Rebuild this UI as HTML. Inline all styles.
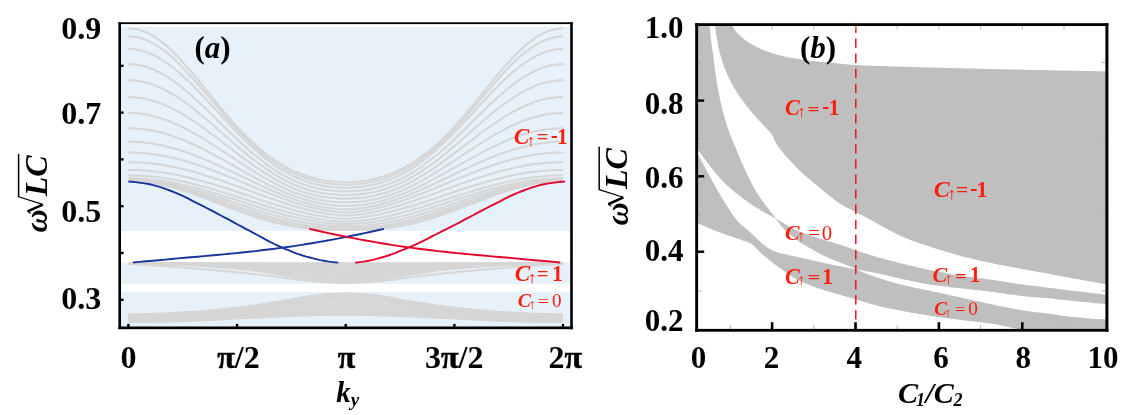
<!DOCTYPE html>
<html><head><meta charset="utf-8"><title>figure</title>
<style>html,body{margin:0;padding:0;background:#fff;}body{width:1139px;height:415px;overflow:hidden;font-family:"Liberation Serif",serif;}svg{display:block;will-change:transform;}</style>
</head><body>
<svg width="1139" height="415" viewBox="0 0 1139 415" font-family="Liberation Serif, serif">
<rect x="121.0" y="26.8" width="449.4" height="204.2" fill="#e7f1fa"/>
<rect x="121.0" y="262.3" width="449.4" height="21.5" fill="#e7f1fa"/>
<rect x="121.0" y="292.0" width="449.4" height="34.60000000000002" fill="#e7f1fa"/>
<g fill="none" stroke="#d6d6d6" stroke-width="2.05" stroke-linecap="butt">
<path d="M128.4,28.4 L131.5,28.5 L134.7,28.9 L137.8,29.5 L141.0,30.4 L144.1,31.5 L147.3,32.9 L150.4,34.5 L153.6,36.3 L156.7,38.3 L159.9,40.6 L163.0,43.0 L166.2,45.6 L169.3,48.4 L172.5,51.4 L175.6,54.5 L178.8,57.8 L181.9,61.2 L185.1,64.7 L188.2,68.3 L191.4,71.9 L194.5,75.7 L197.7,79.5 L200.8,83.3 L204.0,87.2 L207.1,91.1 L210.3,95.0 L213.4,98.9 L216.6,102.8 L219.7,106.6 L222.9,110.4 L226.0,114.1 L229.2,117.8 L232.3,121.4 L235.5,124.9 L238.6,128.4 L241.8,131.7 L244.9,135.0 L248.1,138.1 L251.2,141.2 L254.4,144.1 L257.5,146.9 L260.7,149.6 L263.8,152.2 L267.0,154.6 L270.1,157.0 L273.3,159.2 L276.4,161.3 L279.6,163.3 L282.7,165.2 L285.9,166.9 L289.0,168.6 L292.2,170.1 L295.3,171.6 L298.5,172.9 L301.6,174.2 L304.8,175.3 L307.9,176.3 L311.1,177.3 L314.2,178.2 L317.4,178.9 L320.5,179.6 L323.7,180.2 L326.8,180.8 L330.0,181.2 L333.1,181.6 L336.3,181.8 L339.4,182.0 L342.6,182.2 L345.7,182.2 L348.8,182.2 L352.0,182.0 L355.1,181.8 L358.3,181.6 L361.4,181.2 L364.6,180.8 L367.7,180.2 L370.9,179.6 L374.0,178.9 L377.2,178.2 L380.3,177.3 L383.5,176.3 L386.6,175.3 L389.8,174.2 L392.9,172.9 L396.1,171.6 L399.2,170.1 L402.4,168.6 L405.5,166.9 L408.7,165.2 L411.8,163.3 L415.0,161.3 L418.1,159.2 L421.3,157.0 L424.4,154.6 L427.6,152.2 L430.7,149.6 L433.9,146.9 L437.0,144.1 L440.2,141.2 L443.3,138.1 L446.5,135.0 L449.6,131.7 L452.8,128.4 L455.9,124.9 L459.1,121.4 L462.2,117.8 L465.4,114.1 L468.5,110.4 L471.7,106.6 L474.8,102.8 L478.0,98.9 L481.1,95.0 L484.3,91.1 L487.4,87.2 L490.6,83.3 L493.7,79.5 L496.9,75.7 L500.0,71.9 L503.2,68.3 L506.3,64.7 L509.5,61.2 L512.6,57.8 L515.8,54.5 L518.9,51.4 L522.1,48.4 L525.2,45.6 L528.4,43.0 L531.5,40.6 L534.7,38.3 L537.8,36.3 L541.0,34.5 L544.1,32.9 L547.3,31.5 L550.4,30.4 L553.6,29.5 L556.7,28.9 L559.9,28.5 L563.0,28.4"/>
<path d="M128.4,36.4 L131.5,36.5 L134.7,36.9 L137.8,37.4 L141.0,38.2 L144.1,39.3 L147.3,40.5 L150.4,42.0 L153.6,43.6 L156.7,45.5 L159.9,47.6 L163.0,49.8 L166.2,52.2 L169.3,54.8 L172.5,57.6 L175.6,60.5 L178.8,63.5 L181.9,66.7 L185.1,69.9 L188.2,73.3 L191.4,76.7 L194.5,80.3 L197.7,83.8 L200.8,87.5 L204.0,91.2 L207.1,94.9 L210.3,98.6 L213.4,102.3 L216.6,106.0 L219.7,109.7 L222.9,113.3 L226.0,117.0 L229.2,120.5 L232.3,124.0 L235.5,127.5 L238.6,130.8 L241.8,134.1 L244.9,137.3 L248.1,140.4 L251.2,143.5 L254.4,146.4 L257.5,149.2 L260.7,151.9 L263.8,154.4 L267.0,156.9 L270.1,159.3 L273.3,161.5 L276.4,163.6 L279.6,165.7 L282.7,167.6 L285.9,169.3 L289.0,171.0 L292.2,172.6 L295.3,174.0 L298.5,175.4 L301.6,176.6 L304.8,177.8 L307.9,178.8 L311.1,179.8 L314.2,180.6 L317.4,181.4 L320.5,182.1 L323.7,182.7 L326.8,183.2 L330.0,183.6 L333.1,184.0 L336.3,184.3 L339.4,184.4 L342.6,184.6 L345.7,184.6 L348.8,184.6 L352.0,184.4 L355.1,184.3 L358.3,184.0 L361.4,183.6 L364.6,183.2 L367.7,182.7 L370.9,182.1 L374.0,181.4 L377.2,180.6 L380.3,179.8 L383.5,178.8 L386.6,177.8 L389.8,176.6 L392.9,175.4 L396.1,174.0 L399.2,172.6 L402.4,171.0 L405.5,169.3 L408.7,167.6 L411.8,165.7 L415.0,163.6 L418.1,161.5 L421.3,159.3 L424.4,156.9 L427.6,154.4 L430.7,151.9 L433.9,149.2 L437.0,146.4 L440.2,143.5 L443.3,140.4 L446.5,137.3 L449.6,134.1 L452.8,130.8 L455.9,127.5 L459.1,124.0 L462.2,120.5 L465.4,117.0 L468.5,113.3 L471.7,109.7 L474.8,106.0 L478.0,102.3 L481.1,98.6 L484.3,94.9 L487.4,91.2 L490.6,87.5 L493.7,83.8 L496.9,80.3 L500.0,76.7 L503.2,73.3 L506.3,69.9 L509.5,66.7 L512.6,63.5 L515.8,60.5 L518.9,57.6 L522.1,54.8 L525.2,52.2 L528.4,49.8 L531.5,47.6 L534.7,45.5 L537.8,43.6 L541.0,42.0 L544.1,40.5 L547.3,39.3 L550.4,38.2 L553.6,37.4 L556.7,36.9 L559.9,36.5 L563.0,36.4"/>
<path d="M128.4,48.9 L131.5,49.0 L134.7,49.3 L137.8,49.8 L141.0,50.5 L144.1,51.4 L147.3,52.4 L150.4,53.7 L153.6,55.1 L156.7,56.7 L159.9,58.5 L163.0,60.5 L166.2,62.6 L169.3,64.8 L172.5,67.2 L175.6,69.8 L178.8,72.4 L181.9,75.2 L185.1,78.1 L188.2,81.1 L191.4,84.1 L194.5,87.3 L197.7,90.5 L200.8,93.8 L204.0,97.1 L207.1,100.5 L210.3,103.9 L213.4,107.3 L216.6,110.7 L219.7,114.1 L222.9,117.5 L226.0,120.9 L229.2,124.2 L232.3,127.6 L235.5,130.8 L238.6,134.1 L241.8,137.2 L244.9,140.3 L248.1,143.3 L251.2,146.3 L254.4,149.1 L257.5,151.9 L260.7,154.6 L263.8,157.2 L267.0,159.6 L270.1,162.0 L273.3,164.3 L276.4,166.4 L279.6,168.5 L282.7,170.4 L285.9,172.2 L289.0,173.9 L292.2,175.6 L295.3,177.0 L298.5,178.4 L301.6,179.7 L304.8,180.9 L307.9,182.0 L311.1,182.9 L314.2,183.8 L317.4,184.6 L320.5,185.3 L323.7,185.8 L326.8,186.4 L330.0,186.8 L333.1,187.1 L336.3,187.4 L339.4,187.6 L342.6,187.7 L345.7,187.7 L348.8,187.7 L352.0,187.6 L355.1,187.4 L358.3,187.1 L361.4,186.8 L364.6,186.4 L367.7,185.8 L370.9,185.3 L374.0,184.6 L377.2,183.8 L380.3,182.9 L383.5,182.0 L386.6,180.9 L389.8,179.7 L392.9,178.4 L396.1,177.0 L399.2,175.6 L402.4,173.9 L405.5,172.2 L408.7,170.4 L411.8,168.5 L415.0,166.4 L418.1,164.3 L421.3,162.0 L424.4,159.6 L427.6,157.2 L430.7,154.6 L433.9,151.9 L437.0,149.1 L440.2,146.3 L443.3,143.3 L446.5,140.3 L449.6,137.2 L452.8,134.1 L455.9,130.8 L459.1,127.6 L462.2,124.2 L465.4,120.9 L468.5,117.5 L471.7,114.1 L474.8,110.7 L478.0,107.3 L481.1,103.9 L484.3,100.5 L487.4,97.1 L490.6,93.8 L493.7,90.5 L496.9,87.3 L500.0,84.1 L503.2,81.1 L506.3,78.1 L509.5,75.2 L512.6,72.4 L515.8,69.8 L518.9,67.2 L522.1,64.8 L525.2,62.6 L528.4,60.5 L531.5,58.5 L534.7,56.7 L537.8,55.1 L541.0,53.7 L544.1,52.4 L547.3,51.4 L550.4,50.5 L553.6,49.8 L556.7,49.3 L559.9,49.0 L563.0,48.9"/>
<path d="M128.4,64.1 L131.5,64.2 L134.7,64.4 L137.8,64.9 L141.0,65.5 L144.1,66.3 L147.3,67.2 L150.4,68.3 L153.6,69.6 L156.7,71.0 L159.9,72.6 L163.0,74.3 L166.2,76.2 L169.3,78.2 L172.5,80.3 L175.6,82.6 L178.8,85.0 L181.9,87.4 L185.1,90.0 L188.2,92.7 L191.4,95.4 L194.5,98.2 L197.7,101.1 L200.8,104.1 L204.0,107.1 L207.1,110.1 L210.3,113.2 L213.4,116.3 L216.6,119.4 L219.7,122.5 L222.9,125.6 L226.0,128.7 L229.2,131.7 L232.3,134.8 L235.5,137.8 L238.6,140.8 L241.8,143.7 L244.9,146.5 L248.1,149.3 L251.2,152.1 L254.4,154.7 L257.5,157.3 L260.7,159.8 L263.8,162.3 L267.0,164.6 L270.1,166.8 L273.3,169.0 L276.4,171.0 L279.6,173.0 L282.7,174.8 L285.9,176.5 L289.0,178.2 L292.2,179.7 L295.3,181.1 L298.5,182.5 L301.6,183.7 L304.8,184.8 L307.9,185.8 L311.1,186.8 L314.2,187.6 L317.4,188.3 L320.5,189.0 L323.7,189.6 L326.8,190.0 L330.0,190.4 L333.1,190.8 L336.3,191.0 L339.4,191.2 L342.6,191.3 L345.7,191.3 L348.8,191.3 L352.0,191.2 L355.1,191.0 L358.3,190.8 L361.4,190.4 L364.6,190.0 L367.7,189.6 L370.9,189.0 L374.0,188.3 L377.2,187.6 L380.3,186.8 L383.5,185.8 L386.6,184.8 L389.8,183.7 L392.9,182.5 L396.1,181.1 L399.2,179.7 L402.4,178.2 L405.5,176.5 L408.7,174.8 L411.8,173.0 L415.0,171.0 L418.1,169.0 L421.3,166.8 L424.4,164.6 L427.6,162.3 L430.7,159.8 L433.9,157.3 L437.0,154.7 L440.2,152.1 L443.3,149.3 L446.5,146.5 L449.6,143.7 L452.8,140.8 L455.9,137.8 L459.1,134.8 L462.2,131.7 L465.4,128.7 L468.5,125.6 L471.7,122.5 L474.8,119.4 L478.0,116.3 L481.1,113.2 L484.3,110.1 L487.4,107.1 L490.6,104.1 L493.7,101.1 L496.9,98.2 L500.0,95.4 L503.2,92.7 L506.3,90.0 L509.5,87.4 L512.6,85.0 L515.8,82.6 L518.9,80.3 L522.1,78.2 L525.2,76.2 L528.4,74.3 L531.5,72.6 L534.7,71.0 L537.8,69.6 L541.0,68.3 L544.1,67.2 L547.3,66.3 L550.4,65.5 L553.6,64.9 L556.7,64.4 L559.9,64.2 L563.0,64.1"/>
<path d="M128.4,80.2 L131.5,80.3 L134.7,80.5 L137.8,80.9 L141.0,81.4 L144.1,82.1 L147.3,82.9 L150.4,83.8 L153.6,84.9 L156.7,86.1 L159.9,87.5 L163.0,88.9 L166.2,90.5 L169.3,92.3 L172.5,94.1 L175.6,96.0 L178.8,98.1 L181.9,100.2 L185.1,102.4 L188.2,104.8 L191.4,107.1 L194.5,109.6 L197.7,112.1 L200.8,114.7 L204.0,117.3 L207.1,120.0 L210.3,122.7 L213.4,125.4 L216.6,128.2 L219.7,130.9 L222.9,133.7 L226.0,136.5 L229.2,139.2 L232.3,142.0 L235.5,144.7 L238.6,147.4 L241.8,150.0 L244.9,152.6 L248.1,155.2 L251.2,157.7 L254.4,160.2 L257.5,162.6 L260.7,164.9 L263.8,167.2 L267.0,169.3 L270.1,171.4 L273.3,173.5 L276.4,175.4 L279.6,177.2 L282.7,179.0 L285.9,180.6 L289.0,182.2 L292.2,183.7 L295.3,185.1 L298.5,186.3 L301.6,187.5 L304.8,188.6 L307.9,189.6 L311.1,190.5 L314.2,191.3 L317.4,192.1 L320.5,192.7 L323.7,193.2 L326.8,193.7 L330.0,194.1 L333.1,194.4 L336.3,194.6 L339.4,194.8 L342.6,194.9 L345.7,194.9 L348.8,194.9 L352.0,194.8 L355.1,194.6 L358.3,194.4 L361.4,194.1 L364.6,193.7 L367.7,193.2 L370.9,192.7 L374.0,192.1 L377.2,191.3 L380.3,190.5 L383.5,189.6 L386.6,188.6 L389.8,187.5 L392.9,186.3 L396.1,185.1 L399.2,183.7 L402.4,182.2 L405.5,180.6 L408.7,179.0 L411.8,177.2 L415.0,175.4 L418.1,173.5 L421.3,171.4 L424.4,169.3 L427.6,167.2 L430.7,164.9 L433.9,162.6 L437.0,160.2 L440.2,157.7 L443.3,155.2 L446.5,152.6 L449.6,150.0 L452.8,147.4 L455.9,144.7 L459.1,142.0 L462.2,139.2 L465.4,136.5 L468.5,133.7 L471.7,130.9 L474.8,128.2 L478.0,125.4 L481.1,122.7 L484.3,120.0 L487.4,117.3 L490.6,114.7 L493.7,112.1 L496.9,109.6 L500.0,107.1 L503.2,104.8 L506.3,102.4 L509.5,100.2 L512.6,98.1 L515.8,96.0 L518.9,94.1 L522.1,92.3 L525.2,90.5 L528.4,88.9 L531.5,87.5 L534.7,86.1 L537.8,84.9 L541.0,83.8 L544.1,82.9 L547.3,82.1 L550.4,81.4 L553.6,80.9 L556.7,80.5 L559.9,80.3 L563.0,80.2"/>
<path d="M128.4,97.1 L131.5,97.2 L134.7,97.3 L137.8,97.7 L141.0,98.1 L144.1,98.6 L147.3,99.3 L150.4,100.1 L153.6,101.0 L156.7,102.0 L159.9,103.1 L163.0,104.4 L166.2,105.7 L169.3,107.2 L172.5,108.7 L175.6,110.3 L178.8,112.0 L181.9,113.8 L185.1,115.7 L188.2,117.7 L191.4,119.7 L194.5,121.8 L197.7,123.9 L200.8,126.1 L204.0,128.4 L207.1,130.7 L210.3,133.0 L213.4,135.3 L216.6,137.7 L219.7,140.1 L222.9,142.5 L226.0,144.9 L229.2,147.3 L232.3,149.7 L235.5,152.1 L238.6,154.5 L241.8,156.9 L244.9,159.2 L248.1,161.5 L251.2,163.8 L254.4,166.0 L257.5,168.1 L260.7,170.3 L263.8,172.3 L267.0,174.3 L270.1,176.2 L273.3,178.1 L276.4,179.9 L279.6,181.6 L282.7,183.3 L285.9,184.8 L289.0,186.3 L292.2,187.7 L295.3,189.0 L298.5,190.3 L301.6,191.4 L304.8,192.5 L307.9,193.4 L311.1,194.3 L314.2,195.1 L317.4,195.8 L320.5,196.4 L323.7,197.0 L326.8,197.4 L330.0,197.8 L333.1,198.1 L336.3,198.3 L339.4,198.5 L342.6,198.6 L345.7,198.6 L348.8,198.6 L352.0,198.5 L355.1,198.3 L358.3,198.1 L361.4,197.8 L364.6,197.4 L367.7,197.0 L370.9,196.4 L374.0,195.8 L377.2,195.1 L380.3,194.3 L383.5,193.4 L386.6,192.5 L389.8,191.4 L392.9,190.3 L396.1,189.0 L399.2,187.7 L402.4,186.3 L405.5,184.8 L408.7,183.3 L411.8,181.6 L415.0,179.9 L418.1,178.1 L421.3,176.2 L424.4,174.3 L427.6,172.3 L430.7,170.3 L433.9,168.1 L437.0,166.0 L440.2,163.8 L443.3,161.5 L446.5,159.2 L449.6,156.9 L452.8,154.5 L455.9,152.1 L459.1,149.7 L462.2,147.3 L465.4,144.9 L468.5,142.5 L471.7,140.1 L474.8,137.7 L478.0,135.3 L481.1,133.0 L484.3,130.7 L487.4,128.4 L490.6,126.1 L493.7,123.9 L496.9,121.8 L500.0,119.7 L503.2,117.7 L506.3,115.7 L509.5,113.8 L512.6,112.0 L515.8,110.3 L518.9,108.7 L522.1,107.2 L525.2,105.7 L528.4,104.4 L531.5,103.1 L534.7,102.0 L537.8,101.0 L541.0,100.1 L544.1,99.3 L547.3,98.6 L550.4,98.1 L553.6,97.7 L556.7,97.3 L559.9,97.2 L563.0,97.1"/>
<path d="M128.4,113.0 L131.5,113.1 L134.7,113.2 L137.8,113.5 L141.0,113.8 L144.1,114.3 L147.3,114.8 L150.4,115.5 L153.6,116.2 L156.7,117.1 L159.9,118.0 L163.0,119.0 L166.2,120.1 L169.3,121.3 L172.5,122.6 L175.6,124.0 L178.8,125.4 L181.9,126.9 L185.1,128.5 L188.2,130.1 L191.4,131.8 L194.5,133.5 L197.7,135.4 L200.8,137.2 L204.0,139.1 L207.1,141.0 L210.3,143.0 L213.4,145.0 L216.6,147.1 L219.7,149.1 L222.9,151.2 L226.0,153.2 L229.2,155.3 L232.3,157.4 L235.5,159.5 L238.6,161.6 L241.8,163.6 L244.9,165.7 L248.1,167.7 L251.2,169.7 L254.4,171.7 L257.5,173.6 L260.7,175.5 L263.8,177.4 L267.0,179.2 L270.1,180.9 L273.3,182.6 L276.4,184.3 L279.6,185.9 L282.7,187.4 L285.9,188.9 L289.0,190.3 L292.2,191.6 L295.3,192.8 L298.5,194.0 L301.6,195.1 L304.8,196.1 L307.9,197.1 L311.1,197.9 L314.2,198.7 L317.4,199.4 L320.5,200.0 L323.7,200.5 L326.8,201.0 L330.0,201.4 L333.1,201.7 L336.3,201.9 L339.4,202.1 L342.6,202.2 L345.7,202.2 L348.8,202.2 L352.0,202.1 L355.1,201.9 L358.3,201.7 L361.4,201.4 L364.6,201.0 L367.7,200.5 L370.9,200.0 L374.0,199.4 L377.2,198.7 L380.3,197.9 L383.5,197.1 L386.6,196.1 L389.8,195.1 L392.9,194.0 L396.1,192.8 L399.2,191.6 L402.4,190.3 L405.5,188.9 L408.7,187.4 L411.8,185.9 L415.0,184.3 L418.1,182.6 L421.3,180.9 L424.4,179.2 L427.6,177.4 L430.7,175.5 L433.9,173.6 L437.0,171.7 L440.2,169.7 L443.3,167.7 L446.5,165.7 L449.6,163.6 L452.8,161.6 L455.9,159.5 L459.1,157.4 L462.2,155.3 L465.4,153.2 L468.5,151.2 L471.7,149.1 L474.8,147.1 L478.0,145.0 L481.1,143.0 L484.3,141.0 L487.4,139.1 L490.6,137.2 L493.7,135.4 L496.9,133.5 L500.0,131.8 L503.2,130.1 L506.3,128.5 L509.5,126.9 L512.6,125.4 L515.8,124.0 L518.9,122.6 L522.1,121.3 L525.2,120.1 L528.4,119.0 L531.5,118.0 L534.7,117.1 L537.8,116.2 L541.0,115.5 L544.1,114.8 L547.3,114.3 L550.4,113.8 L553.6,113.5 L556.7,113.2 L559.9,113.1 L563.0,113.0"/>
<path d="M128.4,128.2 L131.5,128.2 L134.7,128.4 L137.8,128.6 L141.0,128.9 L144.1,129.2 L147.3,129.7 L150.4,130.2 L153.6,130.8 L156.7,131.5 L159.9,132.3 L163.0,133.1 L166.2,134.0 L169.3,135.0 L172.5,136.0 L175.6,137.1 L178.8,138.3 L181.9,139.5 L185.1,140.8 L188.2,142.2 L191.4,143.6 L194.5,145.0 L197.7,146.5 L200.8,148.0 L204.0,149.6 L207.1,151.2 L210.3,152.9 L213.4,154.6 L216.6,156.3 L219.7,158.0 L222.9,159.7 L226.0,161.5 L229.2,163.3 L232.3,165.0 L235.5,166.8 L238.6,168.6 L241.8,170.4 L244.9,172.1 L248.1,173.9 L251.2,175.6 L254.4,177.4 L257.5,179.1 L260.7,180.7 L263.8,182.4 L267.0,184.0 L270.1,185.6 L273.3,187.1 L276.4,188.6 L279.6,190.0 L282.7,191.4 L285.9,192.8 L289.0,194.1 L292.2,195.3 L295.3,196.5 L298.5,197.6 L301.6,198.6 L304.8,199.6 L307.9,200.5 L311.1,201.4 L314.2,202.1 L317.4,202.8 L320.5,203.5 L323.7,204.0 L326.8,204.5 L330.0,204.9 L333.1,205.2 L336.3,205.5 L339.4,205.7 L342.6,205.8 L345.7,205.8 L348.8,205.8 L352.0,205.7 L355.1,205.5 L358.3,205.2 L361.4,204.9 L364.6,204.5 L367.7,204.0 L370.9,203.5 L374.0,202.8 L377.2,202.1 L380.3,201.4 L383.5,200.5 L386.6,199.6 L389.8,198.6 L392.9,197.6 L396.1,196.5 L399.2,195.3 L402.4,194.1 L405.5,192.8 L408.7,191.4 L411.8,190.0 L415.0,188.6 L418.1,187.1 L421.3,185.6 L424.4,184.0 L427.6,182.4 L430.7,180.7 L433.9,179.1 L437.0,177.4 L440.2,175.6 L443.3,173.9 L446.5,172.1 L449.6,170.4 L452.8,168.6 L455.9,166.8 L459.1,165.0 L462.2,163.3 L465.4,161.5 L468.5,159.7 L471.7,158.0 L474.8,156.3 L478.0,154.6 L481.1,152.9 L484.3,151.2 L487.4,149.6 L490.6,148.0 L493.7,146.5 L496.9,145.0 L500.0,143.6 L503.2,142.2 L506.3,140.8 L509.5,139.5 L512.6,138.3 L515.8,137.1 L518.9,136.0 L522.1,135.0 L525.2,134.0 L528.4,133.1 L531.5,132.3 L534.7,131.5 L537.8,130.8 L541.0,130.2 L544.1,129.7 L547.3,129.2 L550.4,128.9 L553.6,128.6 L556.7,128.4 L559.9,128.2 L563.0,128.2"/>
<path d="M128.4,141.7 L131.5,141.7 L134.7,141.8 L137.8,142.0 L141.0,142.2 L144.1,142.5 L147.3,142.9 L150.4,143.3 L153.6,143.8 L156.7,144.3 L159.9,145.0 L163.0,145.6 L166.2,146.4 L169.3,147.2 L172.5,148.0 L175.6,148.9 L178.8,149.8 L181.9,150.8 L185.1,151.9 L188.2,153.0 L191.4,154.1 L194.5,155.3 L197.7,156.5 L200.8,157.8 L204.0,159.1 L207.1,160.4 L210.3,161.8 L213.4,163.2 L216.6,164.6 L219.7,166.0 L222.9,167.5 L226.0,169.0 L229.2,170.4 L232.3,171.9 L235.5,173.4 L238.6,175.0 L241.8,176.5 L244.9,178.0 L248.1,179.5 L251.2,181.0 L254.4,182.5 L257.5,184.0 L260.7,185.4 L263.8,186.9 L267.0,188.3 L270.1,189.7 L273.3,191.1 L276.4,192.4 L279.6,193.7 L282.7,195.0 L285.9,196.2 L289.0,197.4 L292.2,198.6 L295.3,199.7 L298.5,200.8 L301.6,201.8 L304.8,202.7 L307.9,203.6 L311.1,204.5 L314.2,205.3 L317.4,206.0 L320.5,206.7 L323.7,207.3 L326.8,207.8 L330.0,208.3 L333.1,208.6 L336.3,209.0 L339.4,209.2 L342.6,209.3 L345.7,209.4 L348.8,209.3 L352.0,209.2 L355.1,209.0 L358.3,208.6 L361.4,208.3 L364.6,207.8 L367.7,207.3 L370.9,206.7 L374.0,206.0 L377.2,205.3 L380.3,204.5 L383.5,203.6 L386.6,202.7 L389.8,201.8 L392.9,200.8 L396.1,199.7 L399.2,198.6 L402.4,197.4 L405.5,196.2 L408.7,195.0 L411.8,193.7 L415.0,192.4 L418.1,191.1 L421.3,189.7 L424.4,188.3 L427.6,186.9 L430.7,185.4 L433.9,184.0 L437.0,182.5 L440.2,181.0 L443.3,179.5 L446.5,178.0 L449.6,176.5 L452.8,175.0 L455.9,173.4 L459.1,171.9 L462.2,170.4 L465.4,169.0 L468.5,167.5 L471.7,166.0 L474.8,164.6 L478.0,163.2 L481.1,161.8 L484.3,160.4 L487.4,159.1 L490.6,157.8 L493.7,156.5 L496.9,155.3 L500.0,154.1 L503.2,153.0 L506.3,151.9 L509.5,150.8 L512.6,149.8 L515.8,148.9 L518.9,148.0 L522.1,147.2 L525.2,146.4 L528.4,145.6 L531.5,145.0 L534.7,144.3 L537.8,143.8 L541.0,143.3 L544.1,142.9 L547.3,142.5 L550.4,142.2 L553.6,142.0 L556.7,141.8 L559.9,141.7 L563.0,141.7"/>
<path d="M128.4,152.5 L131.5,152.5 L134.7,152.6 L137.8,152.7 L141.0,152.9 L144.1,153.2 L147.3,153.5 L150.4,153.9 L153.6,154.3 L156.7,154.7 L159.9,155.2 L163.0,155.8 L166.2,156.4 L169.3,157.1 L172.5,157.8 L175.6,158.5 L178.8,159.3 L181.9,160.2 L185.1,161.1 L188.2,162.0 L191.4,163.0 L194.5,164.0 L197.7,165.0 L200.8,166.1 L204.0,167.2 L207.1,168.3 L210.3,169.5 L213.4,170.6 L216.6,171.8 L219.7,173.1 L222.9,174.3 L226.0,175.6 L229.2,176.9 L232.3,178.1 L235.5,179.4 L238.6,180.8 L241.8,182.1 L244.9,183.4 L248.1,184.7 L251.2,186.0 L254.4,187.3 L257.5,188.6 L260.7,189.9 L263.8,191.2 L267.0,192.4 L270.1,193.7 L273.3,194.9 L276.4,196.1 L279.6,197.3 L282.7,198.5 L285.9,199.6 L289.0,200.7 L292.2,201.7 L295.3,202.8 L298.5,203.8 L301.6,204.7 L304.8,205.6 L307.9,206.5 L311.1,207.3 L314.2,208.1 L317.4,208.8 L320.5,209.5 L323.7,210.1 L326.8,210.6 L330.0,211.1 L333.1,211.6 L336.3,211.9 L339.4,212.2 L342.6,212.4 L345.7,212.5 L348.8,212.4 L352.0,212.2 L355.1,211.9 L358.3,211.6 L361.4,211.1 L364.6,210.6 L367.7,210.1 L370.9,209.5 L374.0,208.8 L377.2,208.1 L380.3,207.3 L383.5,206.5 L386.6,205.6 L389.8,204.7 L392.9,203.8 L396.1,202.8 L399.2,201.7 L402.4,200.7 L405.5,199.6 L408.7,198.5 L411.8,197.3 L415.0,196.1 L418.1,194.9 L421.3,193.7 L424.4,192.4 L427.6,191.2 L430.7,189.9 L433.9,188.6 L437.0,187.3 L440.2,186.0 L443.3,184.7 L446.5,183.4 L449.6,182.1 L452.8,180.8 L455.9,179.4 L459.1,178.1 L462.2,176.9 L465.4,175.6 L468.5,174.3 L471.7,173.1 L474.8,171.8 L478.0,170.6 L481.1,169.5 L484.3,168.3 L487.4,167.2 L490.6,166.1 L493.7,165.0 L496.9,164.0 L500.0,163.0 L503.2,162.0 L506.3,161.1 L509.5,160.2 L512.6,159.3 L515.8,158.5 L518.9,157.8 L522.1,157.1 L525.2,156.4 L528.4,155.8 L531.5,155.2 L534.7,154.7 L537.8,154.3 L541.0,153.9 L544.1,153.5 L547.3,153.2 L550.4,152.9 L553.6,152.7 L556.7,152.6 L559.9,152.5 L563.0,152.5"/>
<path d="M128.4,162.2 L131.5,162.2 L134.7,162.3 L137.8,162.4 L141.0,162.6 L144.1,162.8 L147.3,163.1 L150.4,163.4 L153.6,163.7 L156.7,164.1 L159.9,164.6 L163.0,165.1 L166.2,165.6 L169.3,166.2 L172.5,166.8 L175.6,167.4 L178.8,168.1 L181.9,168.9 L185.1,169.6 L188.2,170.4 L191.4,171.3 L194.5,172.1 L197.7,173.0 L200.8,174.0 L204.0,174.9 L207.1,175.9 L210.3,176.9 L213.4,178.0 L216.6,179.0 L219.7,180.1 L222.9,181.2 L226.0,182.3 L229.2,183.4 L232.3,184.5 L235.5,185.7 L238.6,186.8 L241.8,188.0 L244.9,189.1 L248.1,190.3 L251.2,191.4 L254.4,192.6 L257.5,193.7 L260.7,194.9 L263.8,196.0 L267.0,197.1 L270.1,198.2 L273.3,199.3 L276.4,200.4 L279.6,201.5 L282.7,202.5 L285.9,203.5 L289.0,204.5 L292.2,205.5 L295.3,206.4 L298.5,207.3 L301.6,208.2 L304.8,209.0 L307.9,209.8 L311.1,210.6 L314.2,211.3 L317.4,212.0 L320.5,212.6 L323.7,213.2 L326.8,213.7 L330.0,214.2 L333.1,214.6 L336.3,215.0 L339.4,215.3 L342.6,215.5 L345.7,215.6 L348.8,215.5 L352.0,215.3 L355.1,215.0 L358.3,214.6 L361.4,214.2 L364.6,213.7 L367.7,213.2 L370.9,212.6 L374.0,212.0 L377.2,211.3 L380.3,210.6 L383.5,209.8 L386.6,209.0 L389.8,208.2 L392.9,207.3 L396.1,206.4 L399.2,205.5 L402.4,204.5 L405.5,203.5 L408.7,202.5 L411.8,201.5 L415.0,200.4 L418.1,199.3 L421.3,198.2 L424.4,197.1 L427.6,196.0 L430.7,194.9 L433.9,193.7 L437.0,192.6 L440.2,191.4 L443.3,190.3 L446.5,189.1 L449.6,188.0 L452.8,186.8 L455.9,185.7 L459.1,184.5 L462.2,183.4 L465.4,182.3 L468.5,181.2 L471.7,180.1 L474.8,179.0 L478.0,178.0 L481.1,176.9 L484.3,175.9 L487.4,174.9 L490.6,174.0 L493.7,173.0 L496.9,172.1 L500.0,171.3 L503.2,170.4 L506.3,169.6 L509.5,168.9 L512.6,168.1 L515.8,167.4 L518.9,166.8 L522.1,166.2 L525.2,165.6 L528.4,165.1 L531.5,164.6 L534.7,164.1 L537.8,163.7 L541.0,163.4 L544.1,163.1 L547.3,162.8 L550.4,162.6 L553.6,162.4 L556.7,162.3 L559.9,162.2 L563.0,162.2"/>
<path d="M128.4,169.9 L131.5,169.9 L134.7,170.0 L137.8,170.1 L141.0,170.3 L144.1,170.4 L147.3,170.7 L150.4,171.0 L153.6,171.3 L156.7,171.7 L159.9,172.1 L163.0,172.5 L166.2,173.0 L169.3,173.5 L172.5,174.1 L175.6,174.7 L178.8,175.3 L181.9,176.0 L185.1,176.7 L188.2,177.4 L191.4,178.2 L194.5,179.0 L197.7,179.8 L200.8,180.7 L204.0,181.5 L207.1,182.5 L210.3,183.4 L213.4,184.3 L216.6,185.3 L219.7,186.3 L222.9,187.3 L226.0,188.3 L229.2,189.3 L232.3,190.3 L235.5,191.4 L238.6,192.4 L241.8,193.5 L244.9,194.5 L248.1,195.6 L251.2,196.7 L254.4,197.7 L257.5,198.8 L260.7,199.8 L263.8,200.9 L267.0,201.9 L270.1,202.9 L273.3,203.9 L276.4,204.9 L279.6,205.9 L282.7,206.8 L285.9,207.8 L289.0,208.7 L292.2,209.6 L295.3,210.4 L298.5,211.3 L301.6,212.1 L304.8,212.8 L307.9,213.6 L311.1,214.2 L314.2,214.9 L317.4,215.5 L320.5,216.1 L323.7,216.6 L326.8,217.1 L330.0,217.6 L333.1,217.9 L336.3,218.3 L339.4,218.5 L342.6,218.7 L345.7,218.8 L348.8,218.7 L352.0,218.5 L355.1,218.3 L358.3,217.9 L361.4,217.6 L364.6,217.1 L367.7,216.6 L370.9,216.1 L374.0,215.5 L377.2,214.9 L380.3,214.2 L383.5,213.6 L386.6,212.8 L389.8,212.1 L392.9,211.3 L396.1,210.4 L399.2,209.6 L402.4,208.7 L405.5,207.8 L408.7,206.8 L411.8,205.9 L415.0,204.9 L418.1,203.9 L421.3,202.9 L424.4,201.9 L427.6,200.9 L430.7,199.8 L433.9,198.8 L437.0,197.7 L440.2,196.7 L443.3,195.6 L446.5,194.5 L449.6,193.5 L452.8,192.4 L455.9,191.4 L459.1,190.3 L462.2,189.3 L465.4,188.3 L468.5,187.3 L471.7,186.3 L474.8,185.3 L478.0,184.3 L481.1,183.4 L484.3,182.5 L487.4,181.5 L490.6,180.7 L493.7,179.8 L496.9,179.0 L500.0,178.2 L503.2,177.4 L506.3,176.7 L509.5,176.0 L512.6,175.3 L515.8,174.7 L518.9,174.1 L522.1,173.5 L525.2,173.0 L528.4,172.5 L531.5,172.1 L534.7,171.7 L537.8,171.3 L541.0,171.0 L544.1,170.7 L547.3,170.4 L550.4,170.3 L553.6,170.1 L556.7,170.0 L559.9,169.9 L563.0,169.9"/>
<path d="M128.4,175.4 L131.5,175.4 L134.7,175.5 L137.8,175.6 L141.0,175.7 L144.1,175.9 L147.3,176.2 L150.4,176.4 L153.6,176.8 L156.7,177.1 L159.9,177.5 L163.0,177.9 L166.2,178.4 L169.3,178.9 L172.5,179.5 L175.6,180.1 L178.8,180.7 L181.9,181.3 L185.1,182.0 L188.2,182.7 L191.4,183.5 L194.5,184.2 L197.7,185.0 L200.8,185.9 L204.0,186.7 L207.1,187.6 L210.3,188.5 L213.4,189.4 L216.6,190.3 L219.7,191.3 L222.9,192.2 L226.0,193.2 L229.2,194.2 L232.3,195.2 L235.5,196.2 L238.6,197.2 L241.8,198.2 L244.9,199.2 L248.1,200.2 L251.2,201.3 L254.4,202.3 L257.5,203.3 L260.7,204.3 L263.8,205.3 L267.0,206.2 L270.1,207.2 L273.3,208.2 L276.4,209.1 L279.6,210.0 L282.7,210.9 L285.9,211.8 L289.0,212.6 L292.2,213.5 L295.3,214.2 L298.5,215.0 L301.6,215.8 L304.8,216.5 L307.9,217.1 L311.1,217.8 L314.2,218.4 L317.4,218.9 L320.5,219.4 L323.7,219.9 L326.8,220.3 L330.0,220.7 L333.1,221.0 L336.3,221.3 L339.4,221.5 L342.6,221.6 L345.7,221.7 L348.8,221.6 L352.0,221.5 L355.1,221.3 L358.3,221.0 L361.4,220.7 L364.6,220.3 L367.7,219.9 L370.9,219.4 L374.0,218.9 L377.2,218.4 L380.3,217.8 L383.5,217.1 L386.6,216.5 L389.8,215.8 L392.9,215.0 L396.1,214.2 L399.2,213.5 L402.4,212.6 L405.5,211.8 L408.7,210.9 L411.8,210.0 L415.0,209.1 L418.1,208.2 L421.3,207.2 L424.4,206.2 L427.6,205.3 L430.7,204.3 L433.9,203.3 L437.0,202.3 L440.2,201.3 L443.3,200.2 L446.5,199.2 L449.6,198.2 L452.8,197.2 L455.9,196.2 L459.1,195.2 L462.2,194.2 L465.4,193.2 L468.5,192.2 L471.7,191.3 L474.8,190.3 L478.0,189.4 L481.1,188.5 L484.3,187.6 L487.4,186.7 L490.6,185.9 L493.7,185.0 L496.9,184.2 L500.0,183.5 L503.2,182.7 L506.3,182.0 L509.5,181.3 L512.6,180.7 L515.8,180.1 L518.9,179.5 L522.1,178.9 L525.2,178.4 L528.4,177.9 L531.5,177.5 L534.7,177.1 L537.8,176.8 L541.0,176.4 L544.1,176.2 L547.3,175.9 L550.4,175.7 L553.6,175.6 L556.7,175.5 L559.9,175.4 L563.0,175.4"/>
<path d="M128.4,178.3 L131.5,178.3 L134.7,178.4 L137.8,178.5 L141.0,178.7 L144.1,178.9 L147.3,179.1 L150.4,179.4 L153.6,179.7 L156.7,180.1 L159.9,180.5 L163.0,181.0 L166.2,181.5 L169.3,182.0 L172.5,182.6 L175.6,183.2 L178.8,183.8 L181.9,184.5 L185.1,185.2 L188.2,185.9 L191.4,186.7 L194.5,187.5 L197.7,188.3 L200.8,189.2 L204.0,190.1 L207.1,191.0 L210.3,191.9 L213.4,192.8 L216.6,193.8 L219.7,194.8 L222.9,195.7 L226.0,196.7 L229.2,197.7 L232.3,198.8 L235.5,199.8 L238.6,200.8 L241.8,201.8 L244.9,202.8 L248.1,203.9 L251.2,204.9 L254.4,205.9 L257.5,206.9 L260.7,207.9 L263.8,208.9 L267.0,209.8 L270.1,210.8 L273.3,211.7 L276.4,212.6 L279.6,213.5 L282.7,214.4 L285.9,215.2 L289.0,216.0 L292.2,216.8 L295.3,217.6 L298.5,218.3 L301.6,219.0 L304.8,219.6 L307.9,220.2 L311.1,220.8 L314.2,221.3 L317.4,221.8 L320.5,222.3 L323.7,222.7 L326.8,223.0 L330.0,223.3 L333.1,223.6 L336.3,223.8 L339.4,224.0 L342.6,224.1 L345.7,224.1 L348.8,224.1 L352.0,224.0 L355.1,223.8 L358.3,223.6 L361.4,223.3 L364.6,223.0 L367.7,222.7 L370.9,222.3 L374.0,221.8 L377.2,221.3 L380.3,220.8 L383.5,220.2 L386.6,219.6 L389.8,219.0 L392.9,218.3 L396.1,217.6 L399.2,216.8 L402.4,216.0 L405.5,215.2 L408.7,214.4 L411.8,213.5 L415.0,212.6 L418.1,211.7 L421.3,210.8 L424.4,209.8 L427.6,208.9 L430.7,207.9 L433.9,206.9 L437.0,205.9 L440.2,204.9 L443.3,203.9 L446.5,202.8 L449.6,201.8 L452.8,200.8 L455.9,199.8 L459.1,198.8 L462.2,197.7 L465.4,196.7 L468.5,195.7 L471.7,194.8 L474.8,193.8 L478.0,192.8 L481.1,191.9 L484.3,191.0 L487.4,190.1 L490.6,189.2 L493.7,188.3 L496.9,187.5 L500.0,186.7 L503.2,185.9 L506.3,185.2 L509.5,184.5 L512.6,183.8 L515.8,183.2 L518.9,182.6 L522.1,182.0 L525.2,181.5 L528.4,181.0 L531.5,180.5 L534.7,180.1 L537.8,179.7 L541.0,179.4 L544.1,179.1 L547.3,178.9 L550.4,178.7 L553.6,178.5 L556.7,178.4 L559.9,178.3 L563.0,178.3"/>
<path d="M128.4,179.8 L131.5,179.8 L134.7,179.9 L137.8,180.0 L141.0,180.2 L144.1,180.4 L147.3,180.7 L150.4,181.0 L153.6,181.4 L156.7,181.8 L159.9,182.2 L163.0,182.7 L166.2,183.3 L169.3,183.9 L172.5,184.5 L175.6,185.1 L178.8,185.8 L181.9,186.6 L185.1,187.4 L188.2,188.2 L191.4,189.0 L194.5,189.9 L197.7,190.8 L200.8,191.7 L204.0,192.6 L207.1,193.6 L210.3,194.6 L213.4,195.6 L216.6,196.6 L219.7,197.6 L222.9,198.7 L226.0,199.7 L229.2,200.8 L232.3,201.9 L235.5,202.9 L238.6,204.0 L241.8,205.1 L244.9,206.1 L248.1,207.2 L251.2,208.2 L254.4,209.2 L257.5,210.3 L260.7,211.3 L263.8,212.2 L267.0,213.2 L270.1,214.1 L273.3,215.1 L276.4,215.9 L279.6,216.8 L282.7,217.6 L285.9,218.4 L289.0,219.2 L292.2,220.0 L295.3,220.7 L298.5,221.3 L301.6,221.9 L304.8,222.5 L307.9,223.1 L311.1,223.6 L314.2,224.0 L317.4,224.4 L320.5,224.8 L323.7,225.1 L326.8,225.4 L330.0,225.7 L333.1,225.9 L336.3,226.0 L339.4,226.1 L342.6,226.2 L345.7,226.2 L348.8,226.2 L352.0,226.1 L355.1,226.0 L358.3,225.9 L361.4,225.7 L364.6,225.4 L367.7,225.1 L370.9,224.8 L374.0,224.4 L377.2,224.0 L380.3,223.6 L383.5,223.1 L386.6,222.5 L389.8,221.9 L392.9,221.3 L396.1,220.7 L399.2,220.0 L402.4,219.2 L405.5,218.4 L408.7,217.6 L411.8,216.8 L415.0,215.9 L418.1,215.1 L421.3,214.1 L424.4,213.2 L427.6,212.2 L430.7,211.3 L433.9,210.3 L437.0,209.2 L440.2,208.2 L443.3,207.2 L446.5,206.1 L449.6,205.1 L452.8,204.0 L455.9,202.9 L459.1,201.9 L462.2,200.8 L465.4,199.7 L468.5,198.7 L471.7,197.6 L474.8,196.6 L478.0,195.6 L481.1,194.6 L484.3,193.6 L487.4,192.6 L490.6,191.7 L493.7,190.8 L496.9,189.9 L500.0,189.0 L503.2,188.2 L506.3,187.4 L509.5,186.6 L512.6,185.8 L515.8,185.1 L518.9,184.5 L522.1,183.9 L525.2,183.3 L528.4,182.7 L531.5,182.2 L534.7,181.8 L537.8,181.4 L541.0,181.0 L544.1,180.7 L547.3,180.4 L550.4,180.2 L553.6,180.0 L556.7,179.9 L559.9,179.8 L563.0,179.8"/>
<path d="M128.4,180.6 L131.5,180.6 L134.7,180.7 L137.8,180.8 L141.0,181.0 L144.1,181.3 L147.3,181.6 L150.4,181.9 L153.6,182.3 L156.7,182.8 L159.9,183.3 L163.0,183.9 L166.2,184.5 L169.3,185.1 L172.5,185.8 L175.6,186.5 L178.8,187.3 L181.9,188.1 L185.1,189.0 L188.2,189.8 L191.4,190.7 L194.5,191.7 L197.7,192.7 L200.8,193.7 L204.0,194.7 L207.1,195.7 L210.3,196.8 L213.4,197.9 L216.6,199.0 L219.7,200.1 L222.9,201.2 L226.0,202.3 L229.2,203.4 L232.3,204.5 L235.5,205.6 L238.6,206.8 L241.8,207.9 L244.9,208.9 L248.1,210.0 L251.2,211.1 L254.4,212.1 L257.5,213.2 L260.7,214.2 L263.8,215.2 L267.0,216.1 L270.1,217.1 L273.3,218.0 L276.4,218.8 L279.6,219.7 L282.7,220.5 L285.9,221.2 L289.0,221.9 L292.2,222.6 L295.3,223.3 L298.5,223.9 L301.6,224.5 L304.8,225.0 L307.9,225.5 L311.1,225.9 L314.2,226.3 L317.4,226.6 L320.5,226.9 L323.7,227.2 L326.8,227.4 L330.0,227.6 L333.1,227.8 L336.3,227.9 L339.4,227.9 L342.6,228.0 L345.7,228.0 L348.8,228.0 L352.0,227.9 L355.1,227.9 L358.3,227.8 L361.4,227.6 L364.6,227.4 L367.7,227.2 L370.9,226.9 L374.0,226.6 L377.2,226.3 L380.3,225.9 L383.5,225.5 L386.6,225.0 L389.8,224.5 L392.9,223.9 L396.1,223.3 L399.2,222.6 L402.4,221.9 L405.5,221.2 L408.7,220.5 L411.8,219.7 L415.0,218.8 L418.1,218.0 L421.3,217.1 L424.4,216.1 L427.6,215.2 L430.7,214.2 L433.9,213.2 L437.0,212.1 L440.2,211.1 L443.3,210.0 L446.5,208.9 L449.6,207.9 L452.8,206.8 L455.9,205.6 L459.1,204.5 L462.2,203.4 L465.4,202.3 L468.5,201.2 L471.7,200.1 L474.8,199.0 L478.0,197.9 L481.1,196.8 L484.3,195.7 L487.4,194.7 L490.6,193.7 L493.7,192.7 L496.9,191.7 L500.0,190.7 L503.2,189.8 L506.3,189.0 L509.5,188.1 L512.6,187.3 L515.8,186.5 L518.9,185.8 L522.1,185.1 L525.2,184.5 L528.4,183.9 L531.5,183.3 L534.7,182.8 L537.8,182.3 L541.0,181.9 L544.1,181.6 L547.3,181.3 L550.4,181.0 L553.6,180.8 L556.7,180.7 L559.9,180.6 L563.0,180.6"/>
<path d="M128.4,181.0 L131.5,181.0 L134.7,181.1 L137.8,181.3 L141.0,181.5 L144.1,181.8 L147.3,182.1 L150.4,182.5 L153.6,182.9 L156.7,183.4 L159.9,184.0 L163.0,184.6 L166.2,185.2 L169.3,186.0 L172.5,186.7 L175.6,187.5 L178.8,188.4 L181.9,189.2 L185.1,190.2 L188.2,191.1 L191.4,192.1 L194.5,193.1 L197.7,194.2 L200.8,195.3 L204.0,196.4 L207.1,197.5 L210.3,198.6 L213.4,199.8 L216.6,200.9 L219.7,202.1 L222.9,203.2 L226.0,204.4 L229.2,205.6 L232.3,206.7 L235.5,207.9 L238.6,209.0 L241.8,210.2 L244.9,211.3 L248.1,212.4 L251.2,213.5 L254.4,214.5 L257.5,215.6 L260.7,216.6 L263.8,217.5 L267.0,218.5 L270.1,219.4 L273.3,220.2 L276.4,221.1 L279.6,221.9 L282.7,222.6 L285.9,223.3 L289.0,224.0 L292.2,224.7 L295.3,225.2 L298.5,225.8 L301.6,226.3 L304.8,226.7 L307.9,227.2 L311.1,227.5 L314.2,227.9 L317.4,228.2 L320.5,228.4 L323.7,228.6 L326.8,228.8 L330.0,228.9 L333.1,229.0 L336.3,229.1 L339.4,229.2 L342.6,229.2 L345.7,229.2 L348.8,229.2 L352.0,229.2 L355.1,229.1 L358.3,229.0 L361.4,228.9 L364.6,228.8 L367.7,228.6 L370.9,228.4 L374.0,228.2 L377.2,227.9 L380.3,227.5 L383.5,227.2 L386.6,226.7 L389.8,226.3 L392.9,225.8 L396.1,225.2 L399.2,224.7 L402.4,224.0 L405.5,223.3 L408.7,222.6 L411.8,221.9 L415.0,221.1 L418.1,220.2 L421.3,219.4 L424.4,218.5 L427.6,217.5 L430.7,216.6 L433.9,215.6 L437.0,214.5 L440.2,213.5 L443.3,212.4 L446.5,211.3 L449.6,210.2 L452.8,209.0 L455.9,207.9 L459.1,206.7 L462.2,205.6 L465.4,204.4 L468.5,203.2 L471.7,202.1 L474.8,200.9 L478.0,199.8 L481.1,198.6 L484.3,197.5 L487.4,196.4 L490.6,195.3 L493.7,194.2 L496.9,193.1 L500.0,192.1 L503.2,191.1 L506.3,190.2 L509.5,189.2 L512.6,188.4 L515.8,187.5 L518.9,186.7 L522.1,186.0 L525.2,185.2 L528.4,184.6 L531.5,184.0 L534.7,183.4 L537.8,182.9 L541.0,182.5 L544.1,182.1 L547.3,181.8 L550.4,181.5 L553.6,181.3 L556.7,181.1 L559.9,181.0 L563.0,181.0"/>
<path d="M128.4,181.3 L131.5,181.3 L134.7,181.4 L137.8,181.6 L141.0,181.8 L144.1,182.1 L147.3,182.5 L150.4,182.9 L153.6,183.4 L156.7,184.0 L159.9,184.6 L163.0,185.2 L166.2,185.9 L169.3,186.7 L172.5,187.5 L175.6,188.4 L178.8,189.3 L181.9,190.3 L185.1,191.3 L188.2,192.3 L191.4,193.4 L194.5,194.5 L197.7,195.6 L200.8,196.7 L204.0,197.9 L207.1,199.1 L210.3,200.3 L213.4,201.5 L216.6,202.7 L219.7,203.9 L222.9,205.1 L226.0,206.3 L229.2,207.6 L232.3,208.7 L235.5,209.9 L238.6,211.1 L241.8,212.3 L244.9,213.4 L248.1,214.5 L251.2,215.6 L254.4,216.6 L257.5,217.6 L260.7,218.6 L263.8,219.5 L267.0,220.5 L270.1,221.3 L273.3,222.2 L276.4,222.9 L279.6,223.7 L282.7,224.4 L285.9,225.0 L289.0,225.7 L292.2,226.2 L295.3,226.8 L298.5,227.2 L301.6,227.7 L304.8,228.1 L307.9,228.4 L311.1,228.7 L314.2,229.0 L317.4,229.2 L320.5,229.4 L323.7,229.6 L326.8,229.7 L330.0,229.8 L333.1,229.9 L336.3,229.9 L339.4,230.0 L342.6,230.0 L345.7,230.0 L348.8,230.0 L352.0,230.0 L355.1,229.9 L358.3,229.9 L361.4,229.8 L364.6,229.7 L367.7,229.6 L370.9,229.4 L374.0,229.2 L377.2,229.0 L380.3,228.7 L383.5,228.4 L386.6,228.1 L389.8,227.7 L392.9,227.2 L396.1,226.8 L399.2,226.2 L402.4,225.7 L405.5,225.0 L408.7,224.4 L411.8,223.7 L415.0,222.9 L418.1,222.2 L421.3,221.3 L424.4,220.5 L427.6,219.5 L430.7,218.6 L433.9,217.6 L437.0,216.6 L440.2,215.6 L443.3,214.5 L446.5,213.4 L449.6,212.3 L452.8,211.1 L455.9,209.9 L459.1,208.7 L462.2,207.6 L465.4,206.3 L468.5,205.1 L471.7,203.9 L474.8,202.7 L478.0,201.5 L481.1,200.3 L484.3,199.1 L487.4,197.9 L490.6,196.7 L493.7,195.6 L496.9,194.5 L500.0,193.4 L503.2,192.3 L506.3,191.3 L509.5,190.3 L512.6,189.3 L515.8,188.4 L518.9,187.5 L522.1,186.7 L525.2,185.9 L528.4,185.2 L531.5,184.6 L534.7,184.0 L537.8,183.4 L541.0,182.9 L544.1,182.5 L547.3,182.1 L550.4,181.8 L553.6,181.6 L556.7,181.4 L559.9,181.3 L563.0,181.3"/>
<path d="M128.4,263.2 L131.5,263.2 L134.7,263.2 L137.8,263.2 L141.0,263.2 L144.1,263.2 L147.3,263.2 L150.4,263.2 L153.6,263.2 L156.7,263.2 L159.9,263.2 L163.0,263.2 L166.2,263.2 L169.3,263.2 L172.5,263.2 L175.6,263.2 L178.8,263.2 L181.9,263.2 L185.1,263.2 L188.2,263.2 L191.4,263.2 L194.5,263.2 L197.7,263.2 L200.8,263.2 L204.0,263.2 L207.1,263.2 L210.3,263.2 L213.4,263.2 L216.6,263.2 L219.7,263.2 L222.9,263.2 L226.0,263.2 L229.2,263.2 L232.3,263.2 L235.5,263.2 L238.6,263.2 L241.8,263.2 L244.9,263.2 L248.1,263.2 L251.2,263.2 L254.4,263.2 L257.5,263.2 L260.7,263.2 L263.8,263.2 L267.0,263.2 L270.1,263.2 L273.3,263.2 L276.4,263.2 L279.6,263.2 L282.7,263.2 L285.9,263.2 L289.0,263.2 L292.2,263.2 L295.3,263.2 L298.5,263.2 L301.6,263.2 L304.8,263.2 L307.9,263.2 L311.1,263.2 L314.2,263.2 L317.4,263.2 L320.5,263.2 L323.7,263.2 L326.8,263.2 L330.0,263.2 L333.1,263.2 L336.3,263.2 L339.4,263.2 L342.6,263.2 L345.7,263.2 L348.8,263.2 L352.0,263.2 L355.1,263.2 L358.3,263.2 L361.4,263.2 L364.6,263.2 L367.7,263.2 L370.9,263.2 L374.0,263.2 L377.2,263.2 L380.3,263.2 L383.5,263.2 L386.6,263.2 L389.8,263.2 L392.9,263.2 L396.1,263.2 L399.2,263.2 L402.4,263.2 L405.5,263.2 L408.7,263.2 L411.8,263.2 L415.0,263.2 L418.1,263.2 L421.3,263.2 L424.4,263.2 L427.6,263.2 L430.7,263.2 L433.9,263.2 L437.0,263.2 L440.2,263.2 L443.3,263.2 L446.5,263.2 L449.6,263.2 L452.8,263.2 L455.9,263.2 L459.1,263.2 L462.2,263.2 L465.4,263.2 L468.5,263.2 L471.7,263.2 L474.8,263.2 L478.0,263.2 L481.1,263.2 L484.3,263.2 L487.4,263.2 L490.6,263.2 L493.7,263.2 L496.9,263.2 L500.0,263.2 L503.2,263.2 L506.3,263.2 L509.5,263.2 L512.6,263.2 L515.8,263.2 L518.9,263.2 L522.1,263.2 L525.2,263.2 L528.4,263.2 L531.5,263.2 L534.7,263.2 L537.8,263.2 L541.0,263.2 L544.1,263.2 L547.3,263.2 L550.4,263.2 L553.6,263.2 L556.7,263.2 L559.9,263.2 L563.0,263.2"/>
<path d="M128.4,263.2 L131.5,263.2 L134.7,263.2 L137.8,263.2 L141.0,263.2 L144.1,263.2 L147.3,263.2 L150.4,263.2 L153.6,263.3 L156.7,263.3 L159.9,263.3 L163.0,263.3 L166.2,263.3 L169.3,263.3 L172.5,263.3 L175.6,263.3 L178.8,263.3 L181.9,263.3 L185.1,263.3 L188.2,263.4 L191.4,263.4 L194.5,263.4 L197.7,263.4 L200.8,263.4 L204.0,263.4 L207.1,263.4 L210.3,263.5 L213.4,263.5 L216.6,263.5 L219.7,263.5 L222.9,263.5 L226.0,263.5 L229.2,263.6 L232.3,263.6 L235.5,263.6 L238.6,263.6 L241.8,263.7 L244.9,263.7 L248.1,263.7 L251.2,263.7 L254.4,263.8 L257.5,263.8 L260.7,263.8 L263.8,263.9 L267.0,263.9 L270.1,263.9 L273.3,264.0 L276.4,264.0 L279.6,264.1 L282.7,264.1 L285.9,264.1 L289.0,264.2 L292.2,264.2 L295.3,264.3 L298.5,264.3 L301.6,264.3 L304.8,264.4 L307.9,264.4 L311.1,264.4 L314.2,264.5 L317.4,264.5 L320.5,264.6 L323.7,264.6 L326.8,264.6 L330.0,264.6 L333.1,264.6 L336.3,264.7 L339.4,264.7 L342.6,264.7 L345.7,264.7 L348.8,264.7 L352.0,264.7 L355.1,264.7 L358.3,264.6 L361.4,264.6 L364.6,264.6 L367.7,264.6 L370.9,264.6 L374.0,264.5 L377.2,264.5 L380.3,264.4 L383.5,264.4 L386.6,264.4 L389.8,264.3 L392.9,264.3 L396.1,264.3 L399.2,264.2 L402.4,264.2 L405.5,264.1 L408.7,264.1 L411.8,264.1 L415.0,264.0 L418.1,264.0 L421.3,263.9 L424.4,263.9 L427.6,263.9 L430.7,263.8 L433.9,263.8 L437.0,263.8 L440.2,263.7 L443.3,263.7 L446.5,263.7 L449.6,263.7 L452.8,263.6 L455.9,263.6 L459.1,263.6 L462.2,263.6 L465.4,263.5 L468.5,263.5 L471.7,263.5 L474.8,263.5 L478.0,263.5 L481.1,263.5 L484.3,263.4 L487.4,263.4 L490.6,263.4 L493.7,263.4 L496.9,263.4 L500.0,263.4 L503.2,263.4 L506.3,263.3 L509.5,263.3 L512.6,263.3 L515.8,263.3 L518.9,263.3 L522.1,263.3 L525.2,263.3 L528.4,263.3 L531.5,263.3 L534.7,263.3 L537.8,263.3 L541.0,263.2 L544.1,263.2 L547.3,263.2 L550.4,263.2 L553.6,263.2 L556.7,263.2 L559.9,263.2 L563.0,263.2"/>
<path d="M128.4,263.2 L131.5,263.2 L134.7,263.2 L137.8,263.3 L141.0,263.3 L144.1,263.3 L147.3,263.3 L150.4,263.3 L153.6,263.3 L156.7,263.3 L159.9,263.3 L163.0,263.4 L166.2,263.4 L169.3,263.4 L172.5,263.4 L175.6,263.4 L178.8,263.4 L181.9,263.5 L185.1,263.5 L188.2,263.5 L191.4,263.5 L194.5,263.6 L197.7,263.6 L200.8,263.6 L204.0,263.6 L207.1,263.7 L210.3,263.7 L213.4,263.7 L216.6,263.8 L219.7,263.8 L222.9,263.9 L226.0,263.9 L229.2,263.9 L232.3,264.0 L235.5,264.0 L238.6,264.1 L241.8,264.1 L244.9,264.2 L248.1,264.2 L251.2,264.3 L254.4,264.3 L257.5,264.4 L260.7,264.5 L263.8,264.5 L267.0,264.6 L270.1,264.7 L273.3,264.8 L276.4,264.9 L279.6,264.9 L282.7,265.0 L285.9,265.1 L289.0,265.2 L292.2,265.3 L295.3,265.3 L298.5,265.4 L301.6,265.5 L304.8,265.5 L307.9,265.6 L311.1,265.7 L314.2,265.8 L317.4,265.8 L320.5,265.9 L323.7,266.0 L326.8,266.0 L330.0,266.1 L333.1,266.1 L336.3,266.1 L339.4,266.2 L342.6,266.2 L345.7,266.2 L348.8,266.2 L352.0,266.2 L355.1,266.1 L358.3,266.1 L361.4,266.1 L364.6,266.0 L367.7,266.0 L370.9,265.9 L374.0,265.8 L377.2,265.8 L380.3,265.7 L383.5,265.6 L386.6,265.5 L389.8,265.5 L392.9,265.4 L396.1,265.3 L399.2,265.3 L402.4,265.2 L405.5,265.1 L408.7,265.0 L411.8,264.9 L415.0,264.9 L418.1,264.8 L421.3,264.7 L424.4,264.6 L427.6,264.5 L430.7,264.5 L433.9,264.4 L437.0,264.3 L440.2,264.3 L443.3,264.2 L446.5,264.2 L449.6,264.1 L452.8,264.1 L455.9,264.0 L459.1,264.0 L462.2,263.9 L465.4,263.9 L468.5,263.9 L471.7,263.8 L474.8,263.8 L478.0,263.7 L481.1,263.7 L484.3,263.7 L487.4,263.6 L490.6,263.6 L493.7,263.6 L496.9,263.6 L500.0,263.5 L503.2,263.5 L506.3,263.5 L509.5,263.5 L512.6,263.4 L515.8,263.4 L518.9,263.4 L522.1,263.4 L525.2,263.4 L528.4,263.4 L531.5,263.3 L534.7,263.3 L537.8,263.3 L541.0,263.3 L544.1,263.3 L547.3,263.3 L550.4,263.3 L553.6,263.3 L556.7,263.2 L559.9,263.2 L563.0,263.2"/>
<path d="M128.4,263.2 L131.5,263.3 L134.7,263.3 L137.8,263.3 L141.0,263.3 L144.1,263.3 L147.3,263.3 L150.4,263.3 L153.6,263.4 L156.7,263.4 L159.9,263.4 L163.0,263.4 L166.2,263.5 L169.3,263.5 L172.5,263.5 L175.6,263.5 L178.8,263.6 L181.9,263.6 L185.1,263.6 L188.2,263.7 L191.4,263.7 L194.5,263.7 L197.7,263.8 L200.8,263.8 L204.0,263.9 L207.1,263.9 L210.3,264.0 L213.4,264.0 L216.6,264.1 L219.7,264.1 L222.9,264.2 L226.0,264.2 L229.2,264.3 L232.3,264.4 L235.5,264.4 L238.6,264.5 L241.8,264.6 L244.9,264.6 L248.1,264.7 L251.2,264.8 L254.4,264.9 L257.5,265.0 L260.7,265.1 L263.8,265.2 L267.0,265.3 L270.1,265.4 L273.3,265.6 L276.4,265.7 L279.6,265.8 L282.7,265.9 L285.9,266.0 L289.0,266.2 L292.2,266.3 L295.3,266.4 L298.5,266.5 L301.6,266.6 L304.8,266.7 L307.9,266.8 L311.1,266.9 L314.2,267.0 L317.4,267.2 L320.5,267.3 L323.7,267.3 L326.8,267.4 L330.0,267.5 L333.1,267.5 L336.3,267.6 L339.4,267.6 L342.6,267.7 L345.7,267.7 L348.8,267.7 L352.0,267.6 L355.1,267.6 L358.3,267.5 L361.4,267.5 L364.6,267.4 L367.7,267.3 L370.9,267.3 L374.0,267.2 L377.2,267.0 L380.3,266.9 L383.5,266.8 L386.6,266.7 L389.8,266.6 L392.9,266.5 L396.1,266.4 L399.2,266.3 L402.4,266.2 L405.5,266.0 L408.7,265.9 L411.8,265.8 L415.0,265.7 L418.1,265.6 L421.3,265.4 L424.4,265.3 L427.6,265.2 L430.7,265.1 L433.9,265.0 L437.0,264.9 L440.2,264.8 L443.3,264.7 L446.5,264.6 L449.6,264.6 L452.8,264.5 L455.9,264.4 L459.1,264.4 L462.2,264.3 L465.4,264.2 L468.5,264.2 L471.7,264.1 L474.8,264.1 L478.0,264.0 L481.1,264.0 L484.3,263.9 L487.4,263.9 L490.6,263.8 L493.7,263.8 L496.9,263.7 L500.0,263.7 L503.2,263.7 L506.3,263.6 L509.5,263.6 L512.6,263.6 L515.8,263.5 L518.9,263.5 L522.1,263.5 L525.2,263.5 L528.4,263.4 L531.5,263.4 L534.7,263.4 L537.8,263.4 L541.0,263.3 L544.1,263.3 L547.3,263.3 L550.4,263.3 L553.6,263.3 L556.7,263.3 L559.9,263.3 L563.0,263.2"/>
<path d="M128.4,263.3 L131.5,263.3 L134.7,263.3 L137.8,263.3 L141.0,263.3 L144.1,263.3 L147.3,263.4 L150.4,263.4 L153.6,263.4 L156.7,263.4 L159.9,263.5 L163.0,263.5 L166.2,263.5 L169.3,263.6 L172.5,263.6 L175.6,263.7 L178.8,263.7 L181.9,263.7 L185.1,263.8 L188.2,263.8 L191.4,263.9 L194.5,263.9 L197.7,264.0 L200.8,264.0 L204.0,264.1 L207.1,264.1 L210.3,264.2 L213.4,264.3 L216.6,264.4 L219.7,264.4 L222.9,264.5 L226.0,264.6 L229.2,264.7 L232.3,264.7 L235.5,264.8 L238.6,264.9 L241.8,265.0 L244.9,265.1 L248.1,265.2 L251.2,265.3 L254.4,265.5 L257.5,265.6 L260.7,265.7 L263.8,265.9 L267.0,266.0 L270.1,266.2 L273.3,266.3 L276.4,266.5 L279.6,266.7 L282.7,266.8 L285.9,267.0 L289.0,267.2 L292.2,267.3 L295.3,267.5 L298.5,267.6 L301.6,267.8 L304.8,267.9 L307.9,268.0 L311.1,268.2 L314.2,268.3 L317.4,268.5 L320.5,268.6 L323.7,268.7 L326.8,268.8 L330.0,268.9 L333.1,269.0 L336.3,269.1 L339.4,269.1 L342.6,269.2 L345.7,269.2 L348.8,269.2 L352.0,269.1 L355.1,269.1 L358.3,269.0 L361.4,268.9 L364.6,268.8 L367.7,268.7 L370.9,268.6 L374.0,268.5 L377.2,268.3 L380.3,268.2 L383.5,268.0 L386.6,267.9 L389.8,267.8 L392.9,267.6 L396.1,267.5 L399.2,267.3 L402.4,267.2 L405.5,267.0 L408.7,266.8 L411.8,266.7 L415.0,266.5 L418.1,266.3 L421.3,266.2 L424.4,266.0 L427.6,265.9 L430.7,265.7 L433.9,265.6 L437.0,265.5 L440.2,265.3 L443.3,265.2 L446.5,265.1 L449.6,265.0 L452.8,264.9 L455.9,264.8 L459.1,264.7 L462.2,264.7 L465.4,264.6 L468.5,264.5 L471.7,264.4 L474.8,264.4 L478.0,264.3 L481.1,264.2 L484.3,264.1 L487.4,264.1 L490.6,264.0 L493.7,264.0 L496.9,263.9 L500.0,263.9 L503.2,263.8 L506.3,263.8 L509.5,263.7 L512.6,263.7 L515.8,263.7 L518.9,263.6 L522.1,263.6 L525.2,263.5 L528.4,263.5 L531.5,263.5 L534.7,263.4 L537.8,263.4 L541.0,263.4 L544.1,263.4 L547.3,263.3 L550.4,263.3 L553.6,263.3 L556.7,263.3 L559.9,263.3 L563.0,263.3"/>
<path d="M128.4,263.3 L131.5,263.3 L134.7,263.3 L137.8,263.3 L141.0,263.3 L144.1,263.4 L147.3,263.4 L150.4,263.4 L153.6,263.5 L156.7,263.5 L159.9,263.5 L163.0,263.6 L166.2,263.6 L169.3,263.7 L172.5,263.7 L175.6,263.8 L178.8,263.8 L181.9,263.9 L185.1,263.9 L188.2,264.0 L191.4,264.0 L194.5,264.1 L197.7,264.2 L200.8,264.2 L204.0,264.3 L207.1,264.4 L210.3,264.5 L213.4,264.6 L216.6,264.6 L219.7,264.7 L222.9,264.8 L226.0,264.9 L229.2,265.0 L232.3,265.1 L235.5,265.2 L238.6,265.4 L241.8,265.5 L244.9,265.6 L248.1,265.7 L251.2,265.9 L254.4,266.0 L257.5,266.2 L260.7,266.4 L263.8,266.5 L267.0,266.7 L270.1,266.9 L273.3,267.1 L276.4,267.3 L279.6,267.5 L282.7,267.7 L285.9,267.9 L289.0,268.1 L292.2,268.3 L295.3,268.5 L298.5,268.7 L301.6,268.9 L304.8,269.1 L307.9,269.2 L311.1,269.4 L314.2,269.6 L317.4,269.8 L320.5,270.0 L323.7,270.1 L326.8,270.2 L330.0,270.4 L333.1,270.4 L336.3,270.5 L339.4,270.6 L342.6,270.7 L345.7,270.7 L348.8,270.7 L352.0,270.6 L355.1,270.5 L358.3,270.4 L361.4,270.4 L364.6,270.2 L367.7,270.1 L370.9,270.0 L374.0,269.8 L377.2,269.6 L380.3,269.4 L383.5,269.2 L386.6,269.1 L389.8,268.9 L392.9,268.7 L396.1,268.5 L399.2,268.3 L402.4,268.1 L405.5,267.9 L408.7,267.7 L411.8,267.5 L415.0,267.3 L418.1,267.1 L421.3,266.9 L424.4,266.7 L427.6,266.5 L430.7,266.4 L433.9,266.2 L437.0,266.0 L440.2,265.9 L443.3,265.7 L446.5,265.6 L449.6,265.5 L452.8,265.4 L455.9,265.2 L459.1,265.1 L462.2,265.0 L465.4,264.9 L468.5,264.8 L471.7,264.7 L474.8,264.6 L478.0,264.6 L481.1,264.5 L484.3,264.4 L487.4,264.3 L490.6,264.2 L493.7,264.2 L496.9,264.1 L500.0,264.0 L503.2,264.0 L506.3,263.9 L509.5,263.9 L512.6,263.8 L515.8,263.8 L518.9,263.7 L522.1,263.7 L525.2,263.6 L528.4,263.6 L531.5,263.5 L534.7,263.5 L537.8,263.5 L541.0,263.4 L544.1,263.4 L547.3,263.4 L550.4,263.3 L553.6,263.3 L556.7,263.3 L559.9,263.3 L563.0,263.3"/>
<path d="M128.4,263.3 L131.5,263.3 L134.7,263.3 L137.8,263.4 L141.0,263.4 L144.1,263.4 L147.3,263.4 L150.4,263.5 L153.6,263.5 L156.7,263.6 L159.9,263.6 L163.0,263.7 L166.2,263.7 L169.3,263.8 L172.5,263.8 L175.6,263.9 L178.8,263.9 L181.9,264.0 L185.1,264.1 L188.2,264.1 L191.4,264.2 L194.5,264.3 L197.7,264.4 L200.8,264.4 L204.0,264.5 L207.1,264.6 L210.3,264.7 L213.4,264.8 L216.6,264.9 L219.7,265.0 L222.9,265.2 L226.0,265.3 L229.2,265.4 L232.3,265.5 L235.5,265.7 L238.6,265.8 L241.8,265.9 L244.9,266.1 L248.1,266.2 L251.2,266.4 L254.4,266.6 L257.5,266.8 L260.7,267.0 L263.8,267.2 L267.0,267.4 L270.1,267.7 L273.3,267.9 L276.4,268.2 L279.6,268.4 L282.7,268.6 L285.9,268.9 L289.0,269.1 L292.2,269.4 L295.3,269.6 L298.5,269.8 L301.6,270.0 L304.8,270.2 L307.9,270.5 L311.1,270.7 L314.2,270.9 L317.4,271.1 L320.5,271.3 L323.7,271.5 L326.8,271.7 L330.0,271.8 L333.1,271.9 L336.3,272.0 L339.4,272.1 L342.6,272.1 L345.7,272.2 L348.8,272.1 L352.0,272.1 L355.1,272.0 L358.3,271.9 L361.4,271.8 L364.6,271.7 L367.7,271.5 L370.9,271.3 L374.0,271.1 L377.2,270.9 L380.3,270.7 L383.5,270.5 L386.6,270.2 L389.8,270.0 L392.9,269.8 L396.1,269.6 L399.2,269.4 L402.4,269.1 L405.5,268.9 L408.7,268.6 L411.8,268.4 L415.0,268.2 L418.1,267.9 L421.3,267.7 L424.4,267.4 L427.6,267.2 L430.7,267.0 L433.9,266.8 L437.0,266.6 L440.2,266.4 L443.3,266.2 L446.5,266.1 L449.6,265.9 L452.8,265.8 L455.9,265.7 L459.1,265.5 L462.2,265.4 L465.4,265.3 L468.5,265.2 L471.7,265.0 L474.8,264.9 L478.0,264.8 L481.1,264.7 L484.3,264.6 L487.4,264.5 L490.6,264.4 L493.7,264.4 L496.9,264.3 L500.0,264.2 L503.2,264.1 L506.3,264.1 L509.5,264.0 L512.6,263.9 L515.8,263.9 L518.9,263.8 L522.1,263.8 L525.2,263.7 L528.4,263.7 L531.5,263.6 L534.7,263.6 L537.8,263.5 L541.0,263.5 L544.1,263.4 L547.3,263.4 L550.4,263.4 L553.6,263.4 L556.7,263.3 L559.9,263.3 L563.0,263.3"/>
<path d="M128.4,263.3 L131.5,263.3 L134.7,263.3 L137.8,263.4 L141.0,263.4 L144.1,263.4 L147.3,263.5 L150.4,263.5 L153.6,263.6 L156.7,263.6 L159.9,263.7 L163.0,263.7 L166.2,263.8 L169.3,263.9 L172.5,263.9 L175.6,264.0 L178.8,264.1 L181.9,264.1 L185.1,264.2 L188.2,264.3 L191.4,264.4 L194.5,264.4 L197.7,264.5 L200.8,264.6 L204.0,264.7 L207.1,264.9 L210.3,265.0 L213.4,265.1 L216.6,265.2 L219.7,265.3 L222.9,265.5 L226.0,265.6 L229.2,265.8 L232.3,265.9 L235.5,266.1 L238.6,266.2 L241.8,266.4 L244.9,266.5 L248.1,266.7 L251.2,266.9 L254.4,267.1 L257.5,267.4 L260.7,267.6 L263.8,267.9 L267.0,268.1 L270.1,268.4 L273.3,268.7 L276.4,269.0 L279.6,269.3 L282.7,269.6 L285.9,269.8 L289.0,270.1 L292.2,270.4 L295.3,270.7 L298.5,270.9 L301.6,271.2 L304.8,271.4 L307.9,271.7 L311.1,271.9 L314.2,272.2 L317.4,272.4 L320.5,272.7 L323.7,272.9 L326.8,273.1 L330.0,273.2 L333.1,273.3 L336.3,273.5 L339.4,273.6 L342.6,273.6 L345.7,273.7 L348.8,273.6 L352.0,273.6 L355.1,273.5 L358.3,273.3 L361.4,273.2 L364.6,273.1 L367.7,272.9 L370.9,272.7 L374.0,272.4 L377.2,272.2 L380.3,271.9 L383.5,271.7 L386.6,271.4 L389.8,271.2 L392.9,270.9 L396.1,270.7 L399.2,270.4 L402.4,270.1 L405.5,269.8 L408.7,269.6 L411.8,269.3 L415.0,269.0 L418.1,268.7 L421.3,268.4 L424.4,268.1 L427.6,267.9 L430.7,267.6 L433.9,267.4 L437.0,267.1 L440.2,266.9 L443.3,266.7 L446.5,266.5 L449.6,266.4 L452.8,266.2 L455.9,266.1 L459.1,265.9 L462.2,265.8 L465.4,265.6 L468.5,265.5 L471.7,265.3 L474.8,265.2 L478.0,265.1 L481.1,265.0 L484.3,264.9 L487.4,264.7 L490.6,264.6 L493.7,264.5 L496.9,264.4 L500.0,264.4 L503.2,264.3 L506.3,264.2 L509.5,264.1 L512.6,264.1 L515.8,264.0 L518.9,263.9 L522.1,263.9 L525.2,263.8 L528.4,263.7 L531.5,263.7 L534.7,263.6 L537.8,263.6 L541.0,263.5 L544.1,263.5 L547.3,263.4 L550.4,263.4 L553.6,263.4 L556.7,263.3 L559.9,263.3 L563.0,263.3"/>
<path d="M128.4,263.3 L131.5,263.3 L134.7,263.4 L137.8,263.4 L141.0,263.4 L144.1,263.5 L147.3,263.5 L150.4,263.6 L153.6,263.6 L156.7,263.7 L159.9,263.8 L163.0,263.8 L166.2,263.9 L169.3,264.0 L172.5,264.0 L175.6,264.1 L178.8,264.2 L181.9,264.3 L185.1,264.3 L188.2,264.4 L191.4,264.5 L194.5,264.6 L197.7,264.7 L200.8,264.8 L204.0,265.0 L207.1,265.1 L210.3,265.2 L213.4,265.4 L216.6,265.5 L219.7,265.7 L222.9,265.8 L226.0,266.0 L229.2,266.1 L232.3,266.3 L235.5,266.5 L238.6,266.6 L241.8,266.8 L244.9,267.0 L248.1,267.2 L251.2,267.5 L254.4,267.7 L257.5,268.0 L260.7,268.3 L263.8,268.5 L267.0,268.9 L270.1,269.2 L273.3,269.5 L276.4,269.8 L279.6,270.1 L282.7,270.5 L285.9,270.8 L289.0,271.1 L292.2,271.4 L295.3,271.7 L298.5,272.0 L301.6,272.3 L304.8,272.6 L307.9,272.9 L311.1,273.2 L314.2,273.5 L317.4,273.7 L320.5,274.0 L323.7,274.3 L326.8,274.5 L330.0,274.6 L333.1,274.8 L336.3,274.9 L339.4,275.0 L342.6,275.1 L345.7,275.2 L348.8,275.1 L352.0,275.0 L355.1,274.9 L358.3,274.8 L361.4,274.6 L364.6,274.5 L367.7,274.3 L370.9,274.0 L374.0,273.7 L377.2,273.5 L380.3,273.2 L383.5,272.9 L386.6,272.6 L389.8,272.3 L392.9,272.0 L396.1,271.7 L399.2,271.4 L402.4,271.1 L405.5,270.8 L408.7,270.5 L411.8,270.1 L415.0,269.8 L418.1,269.5 L421.3,269.2 L424.4,268.9 L427.6,268.5 L430.7,268.3 L433.9,268.0 L437.0,267.7 L440.2,267.5 L443.3,267.2 L446.5,267.0 L449.6,266.8 L452.8,266.6 L455.9,266.5 L459.1,266.3 L462.2,266.1 L465.4,266.0 L468.5,265.8 L471.7,265.7 L474.8,265.5 L478.0,265.4 L481.1,265.2 L484.3,265.1 L487.4,265.0 L490.6,264.8 L493.7,264.7 L496.9,264.6 L500.0,264.5 L503.2,264.4 L506.3,264.3 L509.5,264.3 L512.6,264.2 L515.8,264.1 L518.9,264.0 L522.1,264.0 L525.2,263.9 L528.4,263.8 L531.5,263.8 L534.7,263.7 L537.8,263.6 L541.0,263.6 L544.1,263.5 L547.3,263.5 L550.4,263.4 L553.6,263.4 L556.7,263.4 L559.9,263.3 L563.0,263.3"/>
<path d="M128.4,263.3 L131.5,263.4 L134.7,263.4 L137.8,263.4 L141.0,263.5 L144.1,263.5 L147.3,263.6 L150.4,263.6 L153.6,263.7 L156.7,263.8 L159.9,263.8 L163.0,263.9 L166.2,264.0 L169.3,264.1 L172.5,264.1 L175.6,264.2 L178.8,264.3 L181.9,264.4 L185.1,264.5 L188.2,264.6 L191.4,264.7 L194.5,264.8 L197.7,264.9 L200.8,265.1 L204.0,265.2 L207.1,265.3 L210.3,265.5 L213.4,265.6 L216.6,265.8 L219.7,266.0 L222.9,266.1 L226.0,266.3 L229.2,266.5 L232.3,266.7 L235.5,266.9 L238.6,267.1 L241.8,267.3 L244.9,267.5 L248.1,267.7 L251.2,268.0 L254.4,268.3 L257.5,268.6 L260.7,268.9 L263.8,269.2 L267.0,269.6 L270.1,269.9 L273.3,270.3 L276.4,270.6 L279.6,271.0 L282.7,271.4 L285.9,271.7 L289.0,272.1 L292.2,272.4 L295.3,272.8 L298.5,273.1 L301.6,273.5 L304.8,273.8 L307.9,274.1 L311.1,274.4 L314.2,274.7 L317.4,275.1 L320.5,275.4 L323.7,275.6 L326.8,275.9 L330.0,276.1 L333.1,276.2 L336.3,276.4 L339.4,276.5 L342.6,276.6 L345.7,276.7 L348.8,276.6 L352.0,276.5 L355.1,276.4 L358.3,276.2 L361.4,276.1 L364.6,275.9 L367.7,275.6 L370.9,275.4 L374.0,275.1 L377.2,274.7 L380.3,274.4 L383.5,274.1 L386.6,273.8 L389.8,273.5 L392.9,273.1 L396.1,272.8 L399.2,272.4 L402.4,272.1 L405.5,271.7 L408.7,271.4 L411.8,271.0 L415.0,270.6 L418.1,270.3 L421.3,269.9 L424.4,269.6 L427.6,269.2 L430.7,268.9 L433.9,268.6 L437.0,268.3 L440.2,268.0 L443.3,267.7 L446.5,267.5 L449.6,267.3 L452.8,267.1 L455.9,266.9 L459.1,266.7 L462.2,266.5 L465.4,266.3 L468.5,266.1 L471.7,266.0 L474.8,265.8 L478.0,265.6 L481.1,265.5 L484.3,265.3 L487.4,265.2 L490.6,265.1 L493.7,264.9 L496.9,264.8 L500.0,264.7 L503.2,264.6 L506.3,264.5 L509.5,264.4 L512.6,264.3 L515.8,264.2 L518.9,264.1 L522.1,264.1 L525.2,264.0 L528.4,263.9 L531.5,263.8 L534.7,263.8 L537.8,263.7 L541.0,263.6 L544.1,263.6 L547.3,263.5 L550.4,263.5 L553.6,263.4 L556.7,263.4 L559.9,263.4 L563.0,263.3"/>
<path d="M128.4,263.4 L131.5,263.4 L134.7,263.4 L137.8,263.5 L141.0,263.5 L144.1,263.6 L147.3,263.6 L150.4,263.7 L153.6,263.7 L156.7,263.8 L159.9,263.9 L163.0,264.0 L166.2,264.1 L169.3,264.1 L172.5,264.2 L175.6,264.3 L178.8,264.4 L181.9,264.5 L185.1,264.6 L188.2,264.7 L191.4,264.9 L194.5,265.0 L197.7,265.1 L200.8,265.3 L204.0,265.4 L207.1,265.6 L210.3,265.7 L213.4,265.9 L216.6,266.1 L219.7,266.3 L222.9,266.5 L226.0,266.7 L229.2,266.9 L232.3,267.1 L235.5,267.3 L238.6,267.5 L241.8,267.7 L244.9,268.0 L248.1,268.2 L251.2,268.5 L254.4,268.8 L257.5,269.2 L260.7,269.5 L263.8,269.9 L267.0,270.3 L270.1,270.7 L273.3,271.1 L276.4,271.5 L279.6,271.9 L282.7,272.3 L285.9,272.7 L289.0,273.1 L292.2,273.5 L295.3,273.9 L298.5,274.2 L301.6,274.6 L304.8,274.9 L307.9,275.3 L311.1,275.7 L314.2,276.0 L317.4,276.4 L320.5,276.7 L323.7,277.0 L326.8,277.3 L330.0,277.5 L333.1,277.7 L336.3,277.9 L339.4,278.0 L342.6,278.1 L345.7,278.2 L348.8,278.1 L352.0,278.0 L355.1,277.9 L358.3,277.7 L361.4,277.5 L364.6,277.3 L367.7,277.0 L370.9,276.7 L374.0,276.4 L377.2,276.0 L380.3,275.7 L383.5,275.3 L386.6,274.9 L389.8,274.6 L392.9,274.2 L396.1,273.9 L399.2,273.5 L402.4,273.1 L405.5,272.7 L408.7,272.3 L411.8,271.9 L415.0,271.5 L418.1,271.1 L421.3,270.7 L424.4,270.3 L427.6,269.9 L430.7,269.5 L433.9,269.2 L437.0,268.8 L440.2,268.5 L443.3,268.2 L446.5,268.0 L449.6,267.7 L452.8,267.5 L455.9,267.3 L459.1,267.1 L462.2,266.9 L465.4,266.7 L468.5,266.5 L471.7,266.3 L474.8,266.1 L478.0,265.9 L481.1,265.7 L484.3,265.6 L487.4,265.4 L490.6,265.3 L493.7,265.1 L496.9,265.0 L500.0,264.9 L503.2,264.7 L506.3,264.6 L509.5,264.5 L512.6,264.4 L515.8,264.3 L518.9,264.2 L522.1,264.1 L525.2,264.1 L528.4,264.0 L531.5,263.9 L534.7,263.8 L537.8,263.7 L541.0,263.7 L544.1,263.6 L547.3,263.6 L550.4,263.5 L553.6,263.5 L556.7,263.4 L559.9,263.4 L563.0,263.4"/>
<path d="M128.4,263.4 L131.5,263.4 L134.7,263.4 L137.8,263.5 L141.0,263.5 L144.1,263.6 L147.3,263.7 L150.4,263.7 L153.6,263.8 L156.7,263.9 L159.9,264.0 L163.0,264.1 L166.2,264.1 L169.3,264.2 L172.5,264.3 L175.6,264.4 L178.8,264.6 L181.9,264.7 L185.1,264.8 L188.2,264.9 L191.4,265.0 L194.5,265.2 L197.7,265.3 L200.8,265.5 L204.0,265.6 L207.1,265.8 L210.3,266.0 L213.4,266.2 L216.6,266.4 L219.7,266.6 L222.9,266.8 L226.0,267.0 L229.2,267.2 L232.3,267.5 L235.5,267.7 L238.6,267.9 L241.8,268.2 L244.9,268.4 L248.1,268.7 L251.2,269.1 L254.4,269.4 L257.5,269.8 L260.7,270.1 L263.8,270.6 L267.0,271.0 L270.1,271.4 L273.3,271.8 L276.4,272.3 L279.6,272.7 L282.7,273.2 L285.9,273.6 L289.0,274.1 L292.2,274.5 L295.3,274.9 L298.5,275.3 L301.6,275.7 L304.8,276.1 L307.9,276.5 L311.1,276.9 L314.2,277.3 L317.4,277.7 L320.5,278.1 L323.7,278.4 L326.8,278.7 L330.0,278.9 L333.1,279.1 L336.3,279.3 L339.4,279.5 L342.6,279.6 L345.7,279.7 L348.8,279.6 L352.0,279.5 L355.1,279.3 L358.3,279.1 L361.4,278.9 L364.6,278.7 L367.7,278.4 L370.9,278.1 L374.0,277.7 L377.2,277.3 L380.3,276.9 L383.5,276.5 L386.6,276.1 L389.8,275.7 L392.9,275.3 L396.1,274.9 L399.2,274.5 L402.4,274.1 L405.5,273.6 L408.7,273.2 L411.8,272.7 L415.0,272.3 L418.1,271.8 L421.3,271.4 L424.4,271.0 L427.6,270.6 L430.7,270.1 L433.9,269.8 L437.0,269.4 L440.2,269.1 L443.3,268.7 L446.5,268.4 L449.6,268.2 L452.8,267.9 L455.9,267.7 L459.1,267.5 L462.2,267.2 L465.4,267.0 L468.5,266.8 L471.7,266.6 L474.8,266.4 L478.0,266.2 L481.1,266.0 L484.3,265.8 L487.4,265.6 L490.6,265.5 L493.7,265.3 L496.9,265.2 L500.0,265.0 L503.2,264.9 L506.3,264.8 L509.5,264.7 L512.6,264.6 L515.8,264.4 L518.9,264.3 L522.1,264.2 L525.2,264.1 L528.4,264.1 L531.5,264.0 L534.7,263.9 L537.8,263.8 L541.0,263.7 L544.1,263.7 L547.3,263.6 L550.4,263.5 L553.6,263.5 L556.7,263.4 L559.9,263.4 L563.0,263.4"/>
<path d="M128.4,263.4 L131.5,263.4 L134.7,263.5 L137.8,263.5 L141.0,263.6 L144.1,263.6 L147.3,263.7 L150.4,263.8 L153.6,263.9 L156.7,263.9 L159.9,264.0 L163.0,264.1 L166.2,264.2 L169.3,264.3 L172.5,264.4 L175.6,264.6 L178.8,264.7 L181.9,264.8 L185.1,264.9 L188.2,265.0 L191.4,265.2 L194.5,265.3 L197.7,265.5 L200.8,265.7 L204.0,265.9 L207.1,266.0 L210.3,266.2 L213.4,266.4 L216.6,266.7 L219.7,266.9 L222.9,267.1 L226.0,267.3 L229.2,267.6 L232.3,267.8 L235.5,268.1 L238.6,268.4 L241.8,268.6 L244.9,268.9 L248.1,269.2 L251.2,269.6 L254.4,270.0 L257.5,270.4 L260.7,270.8 L263.8,271.2 L267.0,271.7 L270.1,272.1 L273.3,272.6 L276.4,273.1 L279.6,273.6 L282.7,274.1 L285.9,274.6 L289.0,275.1 L292.2,275.5 L295.3,276.0 L298.5,276.4 L301.6,276.9 L304.8,277.3 L307.9,277.7 L311.1,278.1 L314.2,278.6 L317.4,279.0 L320.5,279.4 L323.7,279.8 L326.8,280.1 L330.0,280.4 L333.1,280.6 L336.3,280.8 L339.4,281.0 L342.6,281.1 L345.7,281.2 L348.8,281.1 L352.0,281.0 L355.1,280.8 L358.3,280.6 L361.4,280.4 L364.6,280.1 L367.7,279.8 L370.9,279.4 L374.0,279.0 L377.2,278.6 L380.3,278.1 L383.5,277.7 L386.6,277.3 L389.8,276.9 L392.9,276.4 L396.1,276.0 L399.2,275.5 L402.4,275.1 L405.5,274.6 L408.7,274.1 L411.8,273.6 L415.0,273.1 L418.1,272.6 L421.3,272.1 L424.4,271.7 L427.6,271.2 L430.7,270.8 L433.9,270.4 L437.0,270.0 L440.2,269.6 L443.3,269.2 L446.5,268.9 L449.6,268.6 L452.8,268.4 L455.9,268.1 L459.1,267.8 L462.2,267.6 L465.4,267.3 L468.5,267.1 L471.7,266.9 L474.8,266.7 L478.0,266.4 L481.1,266.2 L484.3,266.0 L487.4,265.9 L490.6,265.7 L493.7,265.5 L496.9,265.3 L500.0,265.2 L503.2,265.0 L506.3,264.9 L509.5,264.8 L512.6,264.7 L515.8,264.6 L518.9,264.4 L522.1,264.3 L525.2,264.2 L528.4,264.1 L531.5,264.0 L534.7,263.9 L537.8,263.9 L541.0,263.8 L544.1,263.7 L547.3,263.6 L550.4,263.6 L553.6,263.5 L556.7,263.5 L559.9,263.4 L563.0,263.4"/>
<path d="M128.4,263.4 L131.5,263.4 L134.7,263.5 L137.8,263.5 L141.0,263.6 L144.1,263.7 L147.3,263.7 L150.4,263.8 L153.6,263.9 L156.7,264.0 L159.9,264.1 L163.0,264.2 L166.2,264.3 L169.3,264.4 L172.5,264.6 L175.6,264.7 L178.8,264.8 L181.9,264.9 L185.1,265.1 L188.2,265.2 L191.4,265.4 L194.5,265.5 L197.7,265.7 L200.8,265.9 L204.0,266.1 L207.1,266.3 L210.3,266.5 L213.4,266.7 L216.6,266.9 L219.7,267.2 L222.9,267.4 L226.0,267.7 L229.2,268.0 L232.3,268.2 L235.5,268.5 L238.6,268.8 L241.8,269.1 L244.9,269.4 L248.1,269.7 L251.2,270.1 L254.4,270.5 L257.5,271.0 L260.7,271.4 L263.8,271.9 L267.0,272.4 L270.1,272.9 L273.3,273.4 L276.4,273.9 L279.6,274.5 L282.7,275.0 L285.9,275.5 L289.0,276.0 L292.2,276.6 L295.3,277.1 L298.5,277.5 L301.6,278.0 L304.8,278.5 L307.9,278.9 L311.1,279.4 L314.2,279.9 L317.4,280.3 L320.5,280.8 L323.7,281.2 L326.8,281.5 L330.0,281.8 L333.1,282.0 L336.3,282.2 L339.4,282.4 L342.6,282.6 L345.7,282.7 L348.8,282.6 L352.0,282.4 L355.1,282.2 L358.3,282.0 L361.4,281.8 L364.6,281.5 L367.7,281.2 L370.9,280.8 L374.0,280.3 L377.2,279.9 L380.3,279.4 L383.5,278.9 L386.6,278.5 L389.8,278.0 L392.9,277.5 L396.1,277.1 L399.2,276.6 L402.4,276.0 L405.5,275.5 L408.7,275.0 L411.8,274.5 L415.0,273.9 L418.1,273.4 L421.3,272.9 L424.4,272.4 L427.6,271.9 L430.7,271.4 L433.9,271.0 L437.0,270.5 L440.2,270.1 L443.3,269.7 L446.5,269.4 L449.6,269.1 L452.8,268.8 L455.9,268.5 L459.1,268.2 L462.2,268.0 L465.4,267.7 L468.5,267.4 L471.7,267.2 L474.8,266.9 L478.0,266.7 L481.1,266.5 L484.3,266.3 L487.4,266.1 L490.6,265.9 L493.7,265.7 L496.9,265.5 L500.0,265.4 L503.2,265.2 L506.3,265.1 L509.5,264.9 L512.6,264.8 L515.8,264.7 L518.9,264.6 L522.1,264.4 L525.2,264.3 L528.4,264.2 L531.5,264.1 L534.7,264.0 L537.8,263.9 L541.0,263.8 L544.1,263.7 L547.3,263.7 L550.4,263.6 L553.6,263.5 L556.7,263.5 L559.9,263.4 L563.0,263.4"/>
<path d="M128.4,263.8 L131.5,264.0 L134.7,264.2 L137.8,264.4 L141.0,264.6 L144.1,264.8 L147.3,265.0 L150.4,265.2 L153.6,265.4 L156.7,265.6 L159.9,265.8 L163.0,266.0 L166.2,266.3 L169.3,266.5 L172.5,266.7 L175.6,267.0 L178.8,267.2 L181.9,267.4 L185.1,267.7 L188.2,267.9 L191.4,268.2 L194.5,268.4 L197.7,268.7 L200.8,269.0 L204.0,269.2 L207.1,269.5 L210.3,269.8 L213.4,270.1 L216.6,270.4 L219.7,270.7 L222.9,270.9 L226.0,271.2 L229.2,271.5 L232.3,271.8 L235.5,272.2 L238.6,272.5 L241.8,272.8 L244.9,273.1 L248.1,273.4 L251.2,273.8 L254.4,274.1 L257.5,274.5 L260.7,274.8 L263.8,275.2 L267.0,275.6 L270.1,275.9 L273.3,276.3 L276.4,276.7 L279.6,277.1 L282.7,277.5 L285.9,277.9 L289.0,278.3 L292.2,278.7 L295.3,279.2 L298.5,279.7 L301.6,280.1 L304.8,280.5 L307.9,280.8 L311.1,281.1 L314.2,281.3 L317.4,281.6 L320.5,281.8 L323.7,282.0 L326.8,282.2 L330.0,282.4 L333.1,282.6 L336.3,282.7 L339.4,282.9 L342.6,282.9 L345.7,283.0 L348.8,282.9 L352.0,282.9 L355.1,282.7 L358.3,282.6 L361.4,282.4 L364.6,282.2 L367.7,282.0 L370.9,281.8 L374.0,281.6 L377.2,281.3 L380.3,281.1 L383.5,280.8 L386.6,280.5 L389.8,280.1 L392.9,279.7 L396.1,279.2 L399.2,278.7 L402.4,278.3 L405.5,277.9 L408.7,277.5 L411.8,277.1 L415.0,276.7 L418.1,276.3 L421.3,275.9 L424.4,275.6 L427.6,275.2 L430.7,274.8 L433.9,274.5 L437.0,274.1 L440.2,273.8 L443.3,273.4 L446.5,273.1 L449.6,272.8 L452.8,272.5 L455.9,272.2 L459.1,271.8 L462.2,271.5 L465.4,271.2 L468.5,270.9 L471.7,270.7 L474.8,270.4 L478.0,270.1 L481.1,269.8 L484.3,269.5 L487.4,269.2 L490.6,269.0 L493.7,268.7 L496.9,268.4 L500.0,268.2 L503.2,267.9 L506.3,267.7 L509.5,267.4 L512.6,267.2 L515.8,267.0 L518.9,266.7 L522.1,266.5 L525.2,266.3 L528.4,266.0 L531.5,265.8 L534.7,265.6 L537.8,265.4 L541.0,265.2 L544.1,265.0 L547.3,264.8 L550.4,264.6 L553.6,264.4 L556.7,264.2 L559.9,264.0 L563.0,263.8"/>
<path d="M128.4,314.5 L131.5,314.5 L134.7,314.4 L137.8,314.3 L141.0,314.2 L144.1,314.1 L147.3,314.0 L150.4,313.9 L153.6,313.8 L156.7,313.7 L159.9,313.6 L163.0,313.4 L166.2,313.3 L169.3,313.1 L172.5,313.0 L175.6,312.8 L178.8,312.6 L181.9,312.5 L185.1,312.3 L188.2,312.1 L191.4,311.9 L194.5,311.7 L197.7,311.4 L200.8,311.2 L204.0,310.9 L207.1,310.6 L210.3,310.4 L213.4,310.1 L216.6,309.8 L219.7,309.4 L222.9,309.1 L226.0,308.8 L229.2,308.4 L232.3,308.1 L235.5,307.7 L238.6,307.4 L241.8,307.0 L244.9,306.7 L248.1,306.3 L251.2,305.8 L254.4,305.4 L257.5,304.9 L260.7,304.4 L263.8,303.9 L267.0,303.4 L270.1,302.9 L273.3,302.4 L276.4,301.9 L279.6,301.4 L282.7,300.9 L285.9,300.4 L289.0,299.9 L292.2,299.3 L295.3,298.7 L298.5,298.2 L301.6,297.6 L304.8,297.0 L307.9,296.5 L311.1,296.0 L314.2,295.5 L317.4,295.1 L320.5,294.8 L323.7,294.5 L326.8,294.3 L330.0,294.1 L333.1,293.9 L336.3,293.7 L339.4,293.6 L342.6,293.5 L345.7,293.4 L348.8,293.5 L352.0,293.6 L355.1,293.7 L358.3,293.9 L361.4,294.1 L364.6,294.3 L367.7,294.5 L370.9,294.8 L374.0,295.1 L377.2,295.5 L380.3,296.0 L383.5,296.5 L386.6,297.0 L389.8,297.6 L392.9,298.2 L396.1,298.7 L399.2,299.3 L402.4,299.9 L405.5,300.4 L408.7,300.9 L411.8,301.4 L415.0,301.9 L418.1,302.4 L421.3,302.9 L424.4,303.4 L427.6,303.9 L430.7,304.4 L433.9,304.9 L437.0,305.4 L440.2,305.8 L443.3,306.3 L446.5,306.7 L449.6,307.0 L452.8,307.4 L455.9,307.7 L459.1,308.1 L462.2,308.4 L465.4,308.8 L468.5,309.1 L471.7,309.4 L474.8,309.8 L478.0,310.1 L481.1,310.4 L484.3,310.6 L487.4,310.9 L490.6,311.2 L493.7,311.4 L496.9,311.7 L500.0,311.9 L503.2,312.1 L506.3,312.3 L509.5,312.5 L512.6,312.6 L515.8,312.8 L518.9,313.0 L522.1,313.1 L525.2,313.3 L528.4,313.4 L531.5,313.6 L534.7,313.7 L537.8,313.8 L541.0,313.9 L544.1,314.0 L547.3,314.1 L550.4,314.2 L553.6,314.3 L556.7,314.4 L559.9,314.5 L563.0,314.5"/>
<path d="M128.4,314.8 L131.5,314.8 L134.7,314.7 L137.8,314.6 L141.0,314.6 L144.1,314.5 L147.3,314.4 L150.4,314.3 L153.6,314.1 L156.7,314.0 L159.9,313.9 L163.0,313.8 L166.2,313.6 L169.3,313.5 L172.5,313.3 L175.6,313.2 L178.8,313.0 L181.9,312.8 L185.1,312.7 L188.2,312.5 L191.4,312.3 L194.5,312.1 L197.7,311.8 L200.8,311.6 L204.0,311.3 L207.1,311.0 L210.3,310.8 L213.4,310.5 L216.6,310.2 L219.7,309.9 L222.9,309.5 L226.0,309.2 L229.2,308.9 L232.3,308.5 L235.5,308.2 L238.6,307.9 L241.8,307.5 L244.9,307.1 L248.1,306.7 L251.2,306.3 L254.4,305.9 L257.5,305.4 L260.7,305.0 L263.8,304.5 L267.0,304.0 L270.1,303.5 L273.3,303.0 L276.4,302.5 L279.6,302.0 L282.7,301.5 L285.9,301.0 L289.0,300.5 L292.2,300.0 L295.3,299.5 L298.5,298.9 L301.6,298.4 L304.8,297.8 L307.9,297.3 L311.1,296.8 L314.2,296.4 L317.4,296.0 L320.5,295.6 L323.7,295.3 L326.8,295.1 L330.0,294.9 L333.1,294.7 L336.3,294.6 L339.4,294.5 L342.6,294.4 L345.7,294.3 L348.8,294.4 L352.0,294.5 L355.1,294.6 L358.3,294.7 L361.4,294.9 L364.6,295.1 L367.7,295.3 L370.9,295.6 L374.0,296.0 L377.2,296.4 L380.3,296.8 L383.5,297.3 L386.6,297.8 L389.8,298.4 L392.9,298.9 L396.1,299.5 L399.2,300.0 L402.4,300.5 L405.5,301.0 L408.7,301.5 L411.8,302.0 L415.0,302.5 L418.1,303.0 L421.3,303.5 L424.4,304.0 L427.6,304.5 L430.7,305.0 L433.9,305.4 L437.0,305.9 L440.2,306.3 L443.3,306.7 L446.5,307.1 L449.6,307.5 L452.8,307.9 L455.9,308.2 L459.1,308.5 L462.2,308.9 L465.4,309.2 L468.5,309.5 L471.7,309.9 L474.8,310.2 L478.0,310.5 L481.1,310.8 L484.3,311.0 L487.4,311.3 L490.6,311.6 L493.7,311.8 L496.9,312.1 L500.0,312.3 L503.2,312.5 L506.3,312.7 L509.5,312.8 L512.6,313.0 L515.8,313.2 L518.9,313.3 L522.1,313.5 L525.2,313.6 L528.4,313.8 L531.5,313.9 L534.7,314.0 L537.8,314.1 L541.0,314.3 L544.1,314.4 L547.3,314.5 L550.4,314.6 L553.6,314.6 L556.7,314.7 L559.9,314.8 L563.0,314.8"/>
<path d="M128.4,315.2 L131.5,315.2 L134.7,315.1 L137.8,315.0 L141.0,315.0 L144.1,314.9 L147.3,314.8 L150.4,314.7 L153.6,314.6 L156.7,314.5 L159.9,314.3 L163.0,314.2 L166.2,314.1 L169.3,313.9 L172.5,313.8 L175.6,313.6 L178.8,313.5 L181.9,313.3 L185.1,313.1 L188.2,313.0 L191.4,312.8 L194.5,312.5 L197.7,312.3 L200.8,312.1 L204.0,311.8 L207.1,311.6 L210.3,311.3 L213.4,311.0 L216.6,310.7 L219.7,310.4 L222.9,310.1 L226.0,309.8 L229.2,309.5 L232.3,309.1 L235.5,308.8 L238.6,308.5 L241.8,308.1 L244.9,307.8 L248.1,307.4 L251.2,307.0 L254.4,306.6 L257.5,306.1 L260.7,305.7 L263.8,305.2 L267.0,304.7 L270.1,304.2 L273.3,303.8 L276.4,303.3 L279.6,302.8 L282.7,302.4 L285.9,301.9 L289.0,301.4 L292.2,300.9 L295.3,300.4 L298.5,299.9 L301.6,299.3 L304.8,298.8 L307.9,298.3 L311.1,297.9 L314.2,297.4 L317.4,297.0 L320.5,296.7 L323.7,296.4 L326.8,296.2 L330.0,296.1 L333.1,295.9 L336.3,295.7 L339.4,295.6 L342.6,295.5 L345.7,295.4 L348.8,295.5 L352.0,295.6 L355.1,295.7 L358.3,295.9 L361.4,296.1 L364.6,296.2 L367.7,296.4 L370.9,296.7 L374.0,297.0 L377.2,297.4 L380.3,297.9 L383.5,298.3 L386.6,298.8 L389.8,299.3 L392.9,299.9 L396.1,300.4 L399.2,300.9 L402.4,301.4 L405.5,301.9 L408.7,302.4 L411.8,302.8 L415.0,303.3 L418.1,303.8 L421.3,304.2 L424.4,304.7 L427.6,305.2 L430.7,305.7 L433.9,306.1 L437.0,306.6 L440.2,307.0 L443.3,307.4 L446.5,307.8 L449.6,308.1 L452.8,308.5 L455.9,308.8 L459.1,309.1 L462.2,309.5 L465.4,309.8 L468.5,310.1 L471.7,310.4 L474.8,310.7 L478.0,311.0 L481.1,311.3 L484.3,311.6 L487.4,311.8 L490.6,312.1 L493.7,312.3 L496.9,312.5 L500.0,312.8 L503.2,313.0 L506.3,313.1 L509.5,313.3 L512.6,313.5 L515.8,313.6 L518.9,313.8 L522.1,313.9 L525.2,314.1 L528.4,314.2 L531.5,314.3 L534.7,314.5 L537.8,314.6 L541.0,314.7 L544.1,314.8 L547.3,314.9 L550.4,315.0 L553.6,315.0 L556.7,315.1 L559.9,315.2 L563.0,315.2"/>
<path d="M128.4,315.7 L131.5,315.7 L134.7,315.6 L137.8,315.5 L141.0,315.5 L144.1,315.4 L147.3,315.3 L150.4,315.2 L153.6,315.1 L156.7,315.0 L159.9,314.9 L163.0,314.7 L166.2,314.6 L169.3,314.5 L172.5,314.3 L175.6,314.2 L178.8,314.0 L181.9,313.9 L185.1,313.7 L188.2,313.5 L191.4,313.3 L194.5,313.1 L197.7,312.9 L200.8,312.7 L204.0,312.4 L207.1,312.2 L210.3,311.9 L213.4,311.6 L216.6,311.4 L219.7,311.1 L222.9,310.8 L226.0,310.5 L229.2,310.1 L232.3,309.8 L235.5,309.5 L238.6,309.2 L241.8,308.8 L244.9,308.5 L248.1,308.2 L251.2,307.8 L254.4,307.4 L257.5,306.9 L260.7,306.5 L263.8,306.1 L267.0,305.6 L270.1,305.2 L273.3,304.7 L276.4,304.3 L279.6,303.8 L282.7,303.4 L285.9,303.0 L289.0,302.5 L292.2,302.0 L295.3,301.5 L298.5,301.0 L301.6,300.5 L304.8,300.0 L307.9,299.6 L311.1,299.1 L314.2,298.7 L317.4,298.3 L320.5,298.0 L323.7,297.8 L326.8,297.6 L330.0,297.4 L333.1,297.3 L336.3,297.1 L339.4,297.0 L342.6,296.9 L345.7,296.8 L348.8,296.9 L352.0,297.0 L355.1,297.1 L358.3,297.3 L361.4,297.4 L364.6,297.6 L367.7,297.8 L370.9,298.0 L374.0,298.3 L377.2,298.7 L380.3,299.1 L383.5,299.6 L386.6,300.0 L389.8,300.5 L392.9,301.0 L396.1,301.5 L399.2,302.0 L402.4,302.5 L405.5,303.0 L408.7,303.4 L411.8,303.8 L415.0,304.3 L418.1,304.7 L421.3,305.2 L424.4,305.6 L427.6,306.1 L430.7,306.5 L433.9,306.9 L437.0,307.4 L440.2,307.8 L443.3,308.2 L446.5,308.5 L449.6,308.8 L452.8,309.2 L455.9,309.5 L459.1,309.8 L462.2,310.1 L465.4,310.5 L468.5,310.8 L471.7,311.1 L474.8,311.4 L478.0,311.6 L481.1,311.9 L484.3,312.2 L487.4,312.4 L490.6,312.7 L493.7,312.9 L496.9,313.1 L500.0,313.3 L503.2,313.5 L506.3,313.7 L509.5,313.9 L512.6,314.0 L515.8,314.2 L518.9,314.3 L522.1,314.5 L525.2,314.6 L528.4,314.7 L531.5,314.9 L534.7,315.0 L537.8,315.1 L541.0,315.2 L544.1,315.3 L547.3,315.4 L550.4,315.5 L553.6,315.5 L556.7,315.6 L559.9,315.7 L563.0,315.7"/>
<path d="M128.4,316.3 L131.5,316.2 L134.7,316.2 L137.8,316.1 L141.0,316.0 L144.1,316.0 L147.3,315.9 L150.4,315.8 L153.6,315.7 L156.7,315.6 L159.9,315.5 L163.0,315.3 L166.2,315.2 L169.3,315.1 L172.5,315.0 L175.6,314.8 L178.8,314.7 L181.9,314.5 L185.1,314.4 L188.2,314.2 L191.4,314.0 L194.5,313.8 L197.7,313.6 L200.8,313.4 L204.0,313.2 L207.1,312.9 L210.3,312.6 L213.4,312.4 L216.6,312.1 L219.7,311.8 L222.9,311.5 L226.0,311.2 L229.2,310.9 L232.3,310.6 L235.5,310.3 L238.6,310.0 L241.8,309.7 L244.9,309.4 L248.1,309.0 L251.2,308.7 L254.4,308.3 L257.5,307.9 L260.7,307.5 L263.8,307.1 L267.0,306.7 L270.1,306.2 L273.3,305.8 L276.4,305.4 L279.6,305.0 L282.7,304.6 L285.9,304.2 L289.0,303.7 L292.2,303.3 L295.3,302.8 L298.5,302.3 L301.6,301.9 L304.8,301.4 L307.9,301.0 L311.1,300.6 L314.2,300.2 L317.4,299.8 L320.5,299.6 L323.7,299.3 L326.8,299.1 L330.0,299.0 L333.1,298.8 L336.3,298.7 L339.4,298.6 L342.6,298.5 L345.7,298.4 L348.8,298.5 L352.0,298.6 L355.1,298.7 L358.3,298.8 L361.4,299.0 L364.6,299.1 L367.7,299.3 L370.9,299.6 L374.0,299.8 L377.2,300.2 L380.3,300.6 L383.5,301.0 L386.6,301.4 L389.8,301.9 L392.9,302.3 L396.1,302.8 L399.2,303.3 L402.4,303.7 L405.5,304.2 L408.7,304.6 L411.8,305.0 L415.0,305.4 L418.1,305.8 L421.3,306.2 L424.4,306.7 L427.6,307.1 L430.7,307.5 L433.9,307.9 L437.0,308.3 L440.2,308.7 L443.3,309.0 L446.5,309.4 L449.6,309.7 L452.8,310.0 L455.9,310.3 L459.1,310.6 L462.2,310.9 L465.4,311.2 L468.5,311.5 L471.7,311.8 L474.8,312.1 L478.0,312.4 L481.1,312.6 L484.3,312.9 L487.4,313.2 L490.6,313.4 L493.7,313.6 L496.9,313.8 L500.0,314.0 L503.2,314.2 L506.3,314.4 L509.5,314.5 L512.6,314.7 L515.8,314.8 L518.9,315.0 L522.1,315.1 L525.2,315.2 L528.4,315.3 L531.5,315.5 L534.7,315.6 L537.8,315.7 L541.0,315.8 L544.1,315.9 L547.3,316.0 L550.4,316.0 L553.6,316.1 L556.7,316.2 L559.9,316.2 L563.0,316.3"/>
<path d="M128.4,316.9 L131.5,316.8 L134.7,316.8 L137.8,316.7 L141.0,316.7 L144.1,316.6 L147.3,316.5 L150.4,316.4 L153.6,316.3 L156.7,316.2 L159.9,316.1 L163.0,316.0 L166.2,315.9 L169.3,315.8 L172.5,315.7 L175.6,315.5 L178.8,315.4 L181.9,315.3 L185.1,315.1 L188.2,315.0 L191.4,314.8 L194.5,314.6 L197.7,314.4 L200.8,314.2 L204.0,313.9 L207.1,313.7 L210.3,313.4 L213.4,313.2 L216.6,312.9 L219.7,312.6 L222.9,312.4 L226.0,312.1 L229.2,311.8 L232.3,311.5 L235.5,311.2 L238.6,310.9 L241.8,310.6 L244.9,310.3 L248.1,310.0 L251.2,309.7 L254.4,309.3 L257.5,308.9 L260.7,308.6 L263.8,308.2 L267.0,307.8 L270.1,307.4 L273.3,307.0 L276.4,306.6 L279.6,306.2 L282.7,305.9 L285.9,305.5 L289.0,305.1 L292.2,304.7 L295.3,304.2 L298.5,303.8 L301.6,303.4 L304.8,302.9 L307.9,302.5 L311.1,302.2 L314.2,301.8 L317.4,301.5 L320.5,301.2 L323.7,301.0 L326.8,300.9 L330.0,300.7 L333.1,300.6 L336.3,300.4 L339.4,300.3 L342.6,300.3 L345.7,300.2 L348.8,300.3 L352.0,300.3 L355.1,300.4 L358.3,300.6 L361.4,300.7 L364.6,300.9 L367.7,301.0 L370.9,301.2 L374.0,301.5 L377.2,301.8 L380.3,302.2 L383.5,302.5 L386.6,302.9 L389.8,303.4 L392.9,303.8 L396.1,304.2 L399.2,304.7 L402.4,305.1 L405.5,305.5 L408.7,305.9 L411.8,306.2 L415.0,306.6 L418.1,307.0 L421.3,307.4 L424.4,307.8 L427.6,308.2 L430.7,308.6 L433.9,308.9 L437.0,309.3 L440.2,309.7 L443.3,310.0 L446.5,310.3 L449.6,310.6 L452.8,310.9 L455.9,311.2 L459.1,311.5 L462.2,311.8 L465.4,312.1 L468.5,312.4 L471.7,312.6 L474.8,312.9 L478.0,313.2 L481.1,313.4 L484.3,313.7 L487.4,313.9 L490.6,314.2 L493.7,314.4 L496.9,314.6 L500.0,314.8 L503.2,315.0 L506.3,315.1 L509.5,315.3 L512.6,315.4 L515.8,315.5 L518.9,315.7 L522.1,315.8 L525.2,315.9 L528.4,316.0 L531.5,316.1 L534.7,316.2 L537.8,316.3 L541.0,316.4 L544.1,316.5 L547.3,316.6 L550.4,316.7 L553.6,316.7 L556.7,316.8 L559.9,316.8 L563.0,316.9"/>
<path d="M128.4,317.5 L131.5,317.5 L134.7,317.5 L137.8,317.4 L141.0,317.3 L144.1,317.3 L147.3,317.2 L150.4,317.1 L153.6,317.0 L156.7,316.9 L159.9,316.8 L163.0,316.7 L166.2,316.6 L169.3,316.5 L172.5,316.4 L175.6,316.3 L178.8,316.2 L181.9,316.0 L185.1,315.9 L188.2,315.7 L191.4,315.6 L194.5,315.4 L197.7,315.2 L200.8,315.0 L204.0,314.8 L207.1,314.5 L210.3,314.3 L213.4,314.1 L216.6,313.8 L219.7,313.5 L222.9,313.3 L226.0,313.0 L229.2,312.7 L232.3,312.4 L235.5,312.2 L238.6,311.9 L241.8,311.6 L244.9,311.3 L248.1,311.0 L251.2,310.7 L254.4,310.4 L257.5,310.1 L260.7,309.7 L263.8,309.4 L267.0,309.0 L270.1,308.6 L273.3,308.3 L276.4,307.9 L279.6,307.6 L282.7,307.2 L285.9,306.9 L289.0,306.5 L292.2,306.1 L295.3,305.8 L298.5,305.4 L301.6,305.0 L304.8,304.6 L307.9,304.2 L311.1,303.9 L314.2,303.6 L317.4,303.3 L320.5,303.0 L323.7,302.8 L326.8,302.7 L330.0,302.5 L333.1,302.4 L336.3,302.3 L339.4,302.2 L342.6,302.1 L345.7,302.1 L348.8,302.1 L352.0,302.2 L355.1,302.3 L358.3,302.4 L361.4,302.5 L364.6,302.7 L367.7,302.8 L370.9,303.0 L374.0,303.3 L377.2,303.6 L380.3,303.9 L383.5,304.2 L386.6,304.6 L389.8,305.0 L392.9,305.4 L396.1,305.8 L399.2,306.1 L402.4,306.5 L405.5,306.9 L408.7,307.2 L411.8,307.6 L415.0,307.9 L418.1,308.3 L421.3,308.6 L424.4,309.0 L427.6,309.4 L430.7,309.7 L433.9,310.1 L437.0,310.4 L440.2,310.7 L443.3,311.0 L446.5,311.3 L449.6,311.6 L452.8,311.9 L455.9,312.2 L459.1,312.4 L462.2,312.7 L465.4,313.0 L468.5,313.3 L471.7,313.5 L474.8,313.8 L478.0,314.1 L481.1,314.3 L484.3,314.5 L487.4,314.8 L490.6,315.0 L493.7,315.2 L496.9,315.4 L500.0,315.6 L503.2,315.7 L506.3,315.9 L509.5,316.0 L512.6,316.2 L515.8,316.3 L518.9,316.4 L522.1,316.5 L525.2,316.6 L528.4,316.7 L531.5,316.8 L534.7,316.9 L537.8,317.0 L541.0,317.1 L544.1,317.2 L547.3,317.3 L550.4,317.3 L553.6,317.4 L556.7,317.5 L559.9,317.5 L563.0,317.5"/>
<path d="M128.4,318.2 L131.5,318.2 L134.7,318.1 L137.8,318.1 L141.0,318.0 L144.1,318.0 L147.3,317.9 L150.4,317.8 L153.6,317.8 L156.7,317.7 L159.9,317.6 L163.0,317.5 L166.2,317.4 L169.3,317.3 L172.5,317.2 L175.6,317.1 L178.8,316.9 L181.9,316.8 L185.1,316.7 L188.2,316.6 L191.4,316.4 L194.5,316.2 L197.7,316.0 L200.8,315.8 L204.0,315.6 L207.1,315.4 L210.3,315.2 L213.4,314.9 L216.6,314.7 L219.7,314.4 L222.9,314.2 L226.0,313.9 L229.2,313.7 L232.3,313.4 L235.5,313.2 L238.6,312.9 L241.8,312.6 L244.9,312.4 L248.1,312.1 L251.2,311.8 L254.4,311.5 L257.5,311.2 L260.7,310.9 L263.8,310.6 L267.0,310.3 L270.1,309.9 L273.3,309.6 L276.4,309.3 L279.6,309.0 L282.7,308.7 L285.9,308.3 L289.0,308.0 L292.2,307.7 L295.3,307.3 L298.5,307.0 L301.6,306.6 L304.8,306.3 L307.9,305.9 L311.1,305.6 L314.2,305.3 L317.4,305.1 L320.5,304.9 L323.7,304.7 L326.8,304.6 L330.0,304.4 L333.1,304.3 L336.3,304.2 L339.4,304.1 L342.6,304.1 L345.7,304.0 L348.8,304.1 L352.0,304.1 L355.1,304.2 L358.3,304.3 L361.4,304.4 L364.6,304.6 L367.7,304.7 L370.9,304.9 L374.0,305.1 L377.2,305.3 L380.3,305.6 L383.5,305.9 L386.6,306.3 L389.8,306.6 L392.9,307.0 L396.1,307.3 L399.2,307.7 L402.4,308.0 L405.5,308.3 L408.7,308.7 L411.8,309.0 L415.0,309.3 L418.1,309.6 L421.3,309.9 L424.4,310.3 L427.6,310.6 L430.7,310.9 L433.9,311.2 L437.0,311.5 L440.2,311.8 L443.3,312.1 L446.5,312.4 L449.6,312.6 L452.8,312.9 L455.9,313.2 L459.1,313.4 L462.2,313.7 L465.4,313.9 L468.5,314.2 L471.7,314.4 L474.8,314.7 L478.0,314.9 L481.1,315.2 L484.3,315.4 L487.4,315.6 L490.6,315.8 L493.7,316.0 L496.9,316.2 L500.0,316.4 L503.2,316.6 L506.3,316.7 L509.5,316.8 L512.6,316.9 L515.8,317.1 L518.9,317.2 L522.1,317.3 L525.2,317.4 L528.4,317.5 L531.5,317.6 L534.7,317.7 L537.8,317.8 L541.0,317.8 L544.1,317.9 L547.3,318.0 L550.4,318.0 L553.6,318.1 L556.7,318.1 L559.9,318.2 L563.0,318.2"/>
<path d="M128.4,318.9 L131.5,318.9 L134.7,318.8 L137.8,318.8 L141.0,318.7 L144.1,318.7 L147.3,318.6 L150.4,318.6 L153.6,318.5 L156.7,318.4 L159.9,318.3 L163.0,318.2 L166.2,318.1 L169.3,318.0 L172.5,317.9 L175.6,317.8 L178.8,317.7 L181.9,317.6 L185.1,317.5 L188.2,317.4 L191.4,317.2 L194.5,317.1 L197.7,316.9 L200.8,316.7 L204.0,316.5 L207.1,316.3 L210.3,316.1 L213.4,315.8 L216.6,315.6 L219.7,315.4 L222.9,315.1 L226.0,314.9 L229.2,314.6 L232.3,314.4 L235.5,314.1 L238.6,313.9 L241.8,313.7 L244.9,313.4 L248.1,313.2 L251.2,312.9 L254.4,312.6 L257.5,312.4 L260.7,312.1 L263.8,311.8 L267.0,311.5 L270.1,311.2 L273.3,310.9 L276.4,310.6 L279.6,310.4 L282.7,310.1 L285.9,309.8 L289.0,309.5 L292.2,309.2 L295.3,308.9 L298.5,308.6 L301.6,308.3 L304.8,308.0 L307.9,307.7 L311.1,307.4 L314.2,307.1 L317.4,306.9 L320.5,306.7 L323.7,306.6 L326.8,306.4 L330.0,306.3 L333.1,306.2 L336.3,306.2 L339.4,306.1 L342.6,306.0 L345.7,306.0 L348.8,306.0 L352.0,306.1 L355.1,306.2 L358.3,306.2 L361.4,306.3 L364.6,306.4 L367.7,306.6 L370.9,306.7 L374.0,306.9 L377.2,307.1 L380.3,307.4 L383.5,307.7 L386.6,308.0 L389.8,308.3 L392.9,308.6 L396.1,308.9 L399.2,309.2 L402.4,309.5 L405.5,309.8 L408.7,310.1 L411.8,310.4 L415.0,310.6 L418.1,310.9 L421.3,311.2 L424.4,311.5 L427.6,311.8 L430.7,312.1 L433.9,312.4 L437.0,312.6 L440.2,312.9 L443.3,313.2 L446.5,313.4 L449.6,313.7 L452.8,313.9 L455.9,314.1 L459.1,314.4 L462.2,314.6 L465.4,314.9 L468.5,315.1 L471.7,315.4 L474.8,315.6 L478.0,315.8 L481.1,316.1 L484.3,316.3 L487.4,316.5 L490.6,316.7 L493.7,316.9 L496.9,317.1 L500.0,317.2 L503.2,317.4 L506.3,317.5 L509.5,317.6 L512.6,317.7 L515.8,317.8 L518.9,317.9 L522.1,318.0 L525.2,318.1 L528.4,318.2 L531.5,318.3 L534.7,318.4 L537.8,318.5 L541.0,318.6 L544.1,318.6 L547.3,318.7 L550.4,318.7 L553.6,318.8 L556.7,318.8 L559.9,318.9 L563.0,318.9"/>
<path d="M128.4,319.5 L131.5,319.5 L134.7,319.5 L137.8,319.5 L141.0,319.4 L144.1,319.4 L147.3,319.3 L150.4,319.2 L153.6,319.2 L156.7,319.1 L159.9,319.0 L163.0,318.9 L166.2,318.9 L169.3,318.8 L172.5,318.7 L175.6,318.6 L178.8,318.5 L181.9,318.4 L185.1,318.3 L188.2,318.2 L191.4,318.0 L194.5,317.9 L197.7,317.7 L200.8,317.5 L204.0,317.3 L207.1,317.1 L210.3,316.9 L213.4,316.7 L216.6,316.5 L219.7,316.3 L222.9,316.0 L226.0,315.8 L229.2,315.6 L232.3,315.3 L235.5,315.1 L238.6,314.9 L241.8,314.7 L244.9,314.4 L248.1,314.2 L251.2,314.0 L254.4,313.7 L257.5,313.5 L260.7,313.2 L263.8,313.0 L267.0,312.7 L270.1,312.5 L273.3,312.2 L276.4,312.0 L279.6,311.7 L282.7,311.5 L285.9,311.2 L289.0,311.0 L292.2,310.7 L295.3,310.4 L298.5,310.1 L301.6,309.9 L304.8,309.6 L307.9,309.3 L311.1,309.1 L314.2,308.9 L317.4,308.7 L320.5,308.5 L323.7,308.4 L326.8,308.3 L330.0,308.2 L333.1,308.1 L336.3,308.0 L339.4,308.0 L342.6,307.9 L345.7,307.9 L348.8,307.9 L352.0,308.0 L355.1,308.0 L358.3,308.1 L361.4,308.2 L364.6,308.3 L367.7,308.4 L370.9,308.5 L374.0,308.7 L377.2,308.9 L380.3,309.1 L383.5,309.3 L386.6,309.6 L389.8,309.9 L392.9,310.1 L396.1,310.4 L399.2,310.7 L402.4,311.0 L405.5,311.2 L408.7,311.5 L411.8,311.7 L415.0,312.0 L418.1,312.2 L421.3,312.5 L424.4,312.7 L427.6,313.0 L430.7,313.2 L433.9,313.5 L437.0,313.7 L440.2,314.0 L443.3,314.2 L446.5,314.4 L449.6,314.7 L452.8,314.9 L455.9,315.1 L459.1,315.3 L462.2,315.6 L465.4,315.8 L468.5,316.0 L471.7,316.3 L474.8,316.5 L478.0,316.7 L481.1,316.9 L484.3,317.1 L487.4,317.3 L490.6,317.5 L493.7,317.7 L496.9,317.9 L500.0,318.0 L503.2,318.2 L506.3,318.3 L509.5,318.4 L512.6,318.5 L515.8,318.6 L518.9,318.7 L522.1,318.8 L525.2,318.9 L528.4,318.9 L531.5,319.0 L534.7,319.1 L537.8,319.2 L541.0,319.2 L544.1,319.3 L547.3,319.4 L550.4,319.4 L553.6,319.5 L556.7,319.5 L559.9,319.5 L563.0,319.5"/>
<path d="M128.4,320.1 L131.5,320.1 L134.7,320.1 L137.8,320.1 L141.0,320.0 L144.1,320.0 L147.3,320.0 L150.4,319.9 L153.6,319.8 L156.7,319.8 L159.9,319.7 L163.0,319.6 L166.2,319.5 L169.3,319.5 L172.5,319.4 L175.6,319.3 L178.8,319.2 L181.9,319.1 L185.1,319.0 L188.2,318.9 L191.4,318.8 L194.5,318.6 L197.7,318.5 L200.8,318.3 L204.0,318.1 L207.1,317.9 L210.3,317.7 L213.4,317.5 L216.6,317.3 L219.7,317.1 L222.9,316.9 L226.0,316.7 L229.2,316.4 L232.3,316.2 L235.5,316.0 L238.6,315.8 L241.8,315.6 L244.9,315.4 L248.1,315.2 L251.2,315.0 L254.4,314.8 L257.5,314.5 L260.7,314.3 L263.8,314.1 L267.0,313.9 L270.1,313.6 L273.3,313.4 L276.4,313.2 L279.6,313.0 L282.7,312.8 L285.9,312.5 L289.0,312.3 L292.2,312.1 L295.3,311.8 L298.5,311.6 L301.6,311.4 L304.8,311.1 L307.9,310.9 L311.1,310.7 L314.2,310.5 L317.4,310.3 L320.5,310.2 L323.7,310.1 L326.8,310.0 L330.0,309.9 L333.1,309.8 L336.3,309.8 L339.4,309.7 L342.6,309.7 L345.7,309.7 L348.8,309.7 L352.0,309.7 L355.1,309.8 L358.3,309.8 L361.4,309.9 L364.6,310.0 L367.7,310.1 L370.9,310.2 L374.0,310.3 L377.2,310.5 L380.3,310.7 L383.5,310.9 L386.6,311.1 L389.8,311.4 L392.9,311.6 L396.1,311.8 L399.2,312.1 L402.4,312.3 L405.5,312.5 L408.7,312.8 L411.8,313.0 L415.0,313.2 L418.1,313.4 L421.3,313.6 L424.4,313.9 L427.6,314.1 L430.7,314.3 L433.9,314.5 L437.0,314.8 L440.2,315.0 L443.3,315.2 L446.5,315.4 L449.6,315.6 L452.8,315.8 L455.9,316.0 L459.1,316.2 L462.2,316.4 L465.4,316.7 L468.5,316.9 L471.7,317.1 L474.8,317.3 L478.0,317.5 L481.1,317.7 L484.3,317.9 L487.4,318.1 L490.6,318.3 L493.7,318.5 L496.9,318.6 L500.0,318.8 L503.2,318.9 L506.3,319.0 L509.5,319.1 L512.6,319.2 L515.8,319.3 L518.9,319.4 L522.1,319.5 L525.2,319.5 L528.4,319.6 L531.5,319.7 L534.7,319.8 L537.8,319.8 L541.0,319.9 L544.1,320.0 L547.3,320.0 L550.4,320.0 L553.6,320.1 L556.7,320.1 L559.9,320.1 L563.0,320.1"/>
<path d="M128.4,320.7 L131.5,320.7 L134.7,320.7 L137.8,320.6 L141.0,320.6 L144.1,320.6 L147.3,320.5 L150.4,320.5 L153.6,320.4 L156.7,320.4 L159.9,320.3 L163.0,320.2 L166.2,320.2 L169.3,320.1 L172.5,320.0 L175.6,319.9 L178.8,319.9 L181.9,319.8 L185.1,319.7 L188.2,319.6 L191.4,319.4 L194.5,319.3 L197.7,319.2 L200.8,319.0 L204.0,318.8 L207.1,318.6 L210.3,318.4 L213.4,318.2 L216.6,318.0 L219.7,317.8 L222.9,317.6 L226.0,317.4 L229.2,317.2 L232.3,317.0 L235.5,316.8 L238.6,316.6 L241.8,316.4 L244.9,316.3 L248.1,316.1 L251.2,315.9 L254.4,315.7 L257.5,315.5 L260.7,315.3 L263.8,315.1 L267.0,314.9 L270.1,314.7 L273.3,314.5 L276.4,314.3 L279.6,314.1 L282.7,313.9 L285.9,313.7 L289.0,313.5 L292.2,313.3 L295.3,313.1 L298.5,312.9 L301.6,312.7 L304.8,312.5 L307.9,312.3 L311.1,312.1 L314.2,312.0 L317.4,311.8 L320.5,311.7 L323.7,311.6 L326.8,311.5 L330.0,311.5 L333.1,311.4 L336.3,311.3 L339.4,311.3 L342.6,311.3 L345.7,311.3 L348.8,311.3 L352.0,311.3 L355.1,311.3 L358.3,311.4 L361.4,311.5 L364.6,311.5 L367.7,311.6 L370.9,311.7 L374.0,311.8 L377.2,312.0 L380.3,312.1 L383.5,312.3 L386.6,312.5 L389.8,312.7 L392.9,312.9 L396.1,313.1 L399.2,313.3 L402.4,313.5 L405.5,313.7 L408.7,313.9 L411.8,314.1 L415.0,314.3 L418.1,314.5 L421.3,314.7 L424.4,314.9 L427.6,315.1 L430.7,315.3 L433.9,315.5 L437.0,315.7 L440.2,315.9 L443.3,316.1 L446.5,316.3 L449.6,316.4 L452.8,316.6 L455.9,316.8 L459.1,317.0 L462.2,317.2 L465.4,317.4 L468.5,317.6 L471.7,317.8 L474.8,318.0 L478.0,318.2 L481.1,318.4 L484.3,318.6 L487.4,318.8 L490.6,319.0 L493.7,319.2 L496.9,319.3 L500.0,319.4 L503.2,319.6 L506.3,319.7 L509.5,319.8 L512.6,319.9 L515.8,319.9 L518.9,320.0 L522.1,320.1 L525.2,320.2 L528.4,320.2 L531.5,320.3 L534.7,320.4 L537.8,320.4 L541.0,320.5 L544.1,320.5 L547.3,320.6 L550.4,320.6 L553.6,320.6 L556.7,320.7 L559.9,320.7 L563.0,320.7"/>
<path d="M128.4,321.2 L131.5,321.2 L134.7,321.2 L137.8,321.1 L141.0,321.1 L144.1,321.1 L147.3,321.0 L150.4,321.0 L153.6,320.9 L156.7,320.9 L159.9,320.8 L163.0,320.8 L166.2,320.7 L169.3,320.6 L172.5,320.6 L175.6,320.5 L178.8,320.4 L181.9,320.4 L185.1,320.3 L188.2,320.2 L191.4,320.0 L194.5,319.9 L197.7,319.8 L200.8,319.6 L204.0,319.4 L207.1,319.3 L210.3,319.1 L213.4,318.9 L216.6,318.7 L219.7,318.5 L222.9,318.3 L226.0,318.1 L229.2,317.9 L232.3,317.7 L235.5,317.5 L238.6,317.3 L241.8,317.2 L244.9,317.0 L248.1,316.8 L251.2,316.7 L254.4,316.5 L257.5,316.3 L260.7,316.1 L263.8,316.0 L267.0,315.8 L270.1,315.6 L273.3,315.4 L276.4,315.3 L279.6,315.1 L282.7,314.9 L285.9,314.8 L289.0,314.6 L292.2,314.4 L295.3,314.3 L298.5,314.1 L301.6,313.9 L304.8,313.7 L307.9,313.6 L311.1,313.4 L314.2,313.3 L317.4,313.1 L320.5,313.0 L323.7,313.0 L326.8,312.9 L330.0,312.8 L333.1,312.8 L336.3,312.7 L339.4,312.7 L342.6,312.7 L345.7,312.7 L348.8,312.7 L352.0,312.7 L355.1,312.7 L358.3,312.8 L361.4,312.8 L364.6,312.9 L367.7,313.0 L370.9,313.0 L374.0,313.1 L377.2,313.3 L380.3,313.4 L383.5,313.6 L386.6,313.7 L389.8,313.9 L392.9,314.1 L396.1,314.3 L399.2,314.4 L402.4,314.6 L405.5,314.8 L408.7,314.9 L411.8,315.1 L415.0,315.3 L418.1,315.4 L421.3,315.6 L424.4,315.8 L427.6,316.0 L430.7,316.1 L433.9,316.3 L437.0,316.5 L440.2,316.7 L443.3,316.8 L446.5,317.0 L449.6,317.2 L452.8,317.3 L455.9,317.5 L459.1,317.7 L462.2,317.9 L465.4,318.1 L468.5,318.3 L471.7,318.5 L474.8,318.7 L478.0,318.9 L481.1,319.1 L484.3,319.3 L487.4,319.4 L490.6,319.6 L493.7,319.8 L496.9,319.9 L500.0,320.0 L503.2,320.2 L506.3,320.3 L509.5,320.4 L512.6,320.4 L515.8,320.5 L518.9,320.6 L522.1,320.6 L525.2,320.7 L528.4,320.8 L531.5,320.8 L534.7,320.9 L537.8,320.9 L541.0,321.0 L544.1,321.0 L547.3,321.1 L550.4,321.1 L553.6,321.1 L556.7,321.2 L559.9,321.2 L563.0,321.2"/>
<path d="M128.4,321.6 L131.5,321.6 L134.7,321.6 L137.8,321.6 L141.0,321.5 L144.1,321.5 L147.3,321.5 L150.4,321.4 L153.6,321.4 L156.7,321.3 L159.9,321.3 L163.0,321.2 L166.2,321.2 L169.3,321.1 L172.5,321.0 L175.6,321.0 L178.8,320.9 L181.9,320.8 L185.1,320.7 L188.2,320.6 L191.4,320.5 L194.5,320.4 L197.7,320.3 L200.8,320.1 L204.0,319.9 L207.1,319.8 L210.3,319.6 L213.4,319.4 L216.6,319.2 L219.7,319.0 L222.9,318.9 L226.0,318.7 L229.2,318.5 L232.3,318.3 L235.5,318.1 L238.6,317.9 L241.8,317.8 L244.9,317.6 L248.1,317.5 L251.2,317.3 L254.4,317.2 L257.5,317.0 L260.7,316.8 L263.8,316.7 L267.0,316.5 L270.1,316.4 L273.3,316.2 L276.4,316.1 L279.6,315.9 L282.7,315.8 L285.9,315.6 L289.0,315.5 L292.2,315.3 L295.3,315.2 L298.5,315.0 L301.6,314.9 L304.8,314.7 L307.9,314.6 L311.1,314.4 L314.2,314.3 L317.4,314.2 L320.5,314.1 L323.7,314.1 L326.8,314.0 L330.0,314.0 L333.1,313.9 L336.3,313.9 L339.4,313.8 L342.6,313.8 L345.7,313.8 L348.8,313.8 L352.0,313.8 L355.1,313.9 L358.3,313.9 L361.4,314.0 L364.6,314.0 L367.7,314.1 L370.9,314.1 L374.0,314.2 L377.2,314.3 L380.3,314.4 L383.5,314.6 L386.6,314.7 L389.8,314.9 L392.9,315.0 L396.1,315.2 L399.2,315.3 L402.4,315.5 L405.5,315.6 L408.7,315.8 L411.8,315.9 L415.0,316.1 L418.1,316.2 L421.3,316.4 L424.4,316.5 L427.6,316.7 L430.7,316.8 L433.9,317.0 L437.0,317.2 L440.2,317.3 L443.3,317.5 L446.5,317.6 L449.6,317.8 L452.8,317.9 L455.9,318.1 L459.1,318.3 L462.2,318.5 L465.4,318.7 L468.5,318.9 L471.7,319.0 L474.8,319.2 L478.0,319.4 L481.1,319.6 L484.3,319.8 L487.4,319.9 L490.6,320.1 L493.7,320.3 L496.9,320.4 L500.0,320.5 L503.2,320.6 L506.3,320.7 L509.5,320.8 L512.6,320.9 L515.8,321.0 L518.9,321.0 L522.1,321.1 L525.2,321.2 L528.4,321.2 L531.5,321.3 L534.7,321.3 L537.8,321.4 L541.0,321.4 L544.1,321.5 L547.3,321.5 L550.4,321.5 L553.6,321.6 L556.7,321.6 L559.9,321.6 L563.0,321.6"/>
<path d="M128.4,321.9 L131.5,321.9 L134.7,321.9 L137.8,321.9 L141.0,321.8 L144.1,321.8 L147.3,321.8 L150.4,321.7 L153.6,321.7 L156.7,321.7 L159.9,321.6 L163.0,321.6 L166.2,321.5 L169.3,321.4 L172.5,321.4 L175.6,321.3 L178.8,321.3 L181.9,321.2 L185.1,321.1 L188.2,321.0 L191.4,320.9 L194.5,320.8 L197.7,320.6 L200.8,320.5 L204.0,320.3 L207.1,320.2 L210.3,320.0 L213.4,319.8 L216.6,319.6 L219.7,319.5 L222.9,319.3 L226.0,319.1 L229.2,318.9 L232.3,318.7 L235.5,318.6 L238.6,318.4 L241.8,318.3 L244.9,318.1 L248.1,318.0 L251.2,317.8 L254.4,317.7 L257.5,317.5 L260.7,317.4 L263.8,317.2 L267.0,317.1 L270.1,317.0 L273.3,316.8 L276.4,316.7 L279.6,316.6 L282.7,316.4 L285.9,316.3 L289.0,316.2 L292.2,316.0 L295.3,315.9 L298.5,315.8 L301.6,315.6 L304.8,315.5 L307.9,315.4 L311.1,315.3 L314.2,315.2 L317.4,315.1 L320.5,315.0 L323.7,314.9 L326.8,314.9 L330.0,314.8 L333.1,314.8 L336.3,314.8 L339.4,314.7 L342.6,314.7 L345.7,314.7 L348.8,314.7 L352.0,314.7 L355.1,314.8 L358.3,314.8 L361.4,314.8 L364.6,314.9 L367.7,314.9 L370.9,315.0 L374.0,315.1 L377.2,315.2 L380.3,315.3 L383.5,315.4 L386.6,315.5 L389.8,315.6 L392.9,315.8 L396.1,315.9 L399.2,316.0 L402.4,316.2 L405.5,316.3 L408.7,316.4 L411.8,316.6 L415.0,316.7 L418.1,316.8 L421.3,317.0 L424.4,317.1 L427.6,317.2 L430.7,317.4 L433.9,317.5 L437.0,317.7 L440.2,317.8 L443.3,318.0 L446.5,318.1 L449.6,318.3 L452.8,318.4 L455.9,318.6 L459.1,318.7 L462.2,318.9 L465.4,319.1 L468.5,319.3 L471.7,319.5 L474.8,319.6 L478.0,319.8 L481.1,320.0 L484.3,320.2 L487.4,320.3 L490.6,320.5 L493.7,320.6 L496.9,320.8 L500.0,320.9 L503.2,321.0 L506.3,321.1 L509.5,321.2 L512.6,321.3 L515.8,321.3 L518.9,321.4 L522.1,321.4 L525.2,321.5 L528.4,321.6 L531.5,321.6 L534.7,321.7 L537.8,321.7 L541.0,321.7 L544.1,321.8 L547.3,321.8 L550.4,321.8 L553.6,321.9 L556.7,321.9 L559.9,321.9 L563.0,321.9"/>
</g>
<g fill="none" stroke-width="1.9">
<path stroke="#17359b" d="M128.4,181.6 L132.0,181.8 L135.5,182.1 L139.1,182.6 L142.6,183.1 L146.2,183.6 L149.7,184.3 L153.3,185.1 L156.8,186.1 L160.4,187.2 L164.0,188.4 L167.5,189.7 L171.1,191.0 L174.6,192.3 L178.2,193.8 L181.7,195.4 L185.3,197.1 L188.9,198.9 L192.4,200.8 L196.0,202.6 L199.5,204.4 L203.1,206.2 L206.6,208.0 L210.2,209.9 L213.7,211.7 L217.3,213.6 L220.9,215.5 L224.4,217.4 L228.0,219.2 L231.5,221.1 L235.1,223.1 L238.6,225.0 L242.2,226.9 L245.7,228.8 L249.3,230.7 L252.9,232.6 L256.4,234.5 L260.0,236.4 L263.5,238.4 L267.1,240.3 L270.6,242.2 L274.2,244.0 L277.7,245.6 L281.3,247.2 L284.9,248.8 L288.4,250.2 L292.0,251.7 L295.5,253.1 L299.1,254.3 L302.6,255.5 L306.2,256.6 L309.8,257.5 L313.3,258.4 L316.9,259.3 L320.4,260.1 L324.0,260.8 L327.5,261.4 L331.1,261.9 L334.6,262.3 L338.2,262.6"/>
<path stroke="#17359b" d="M133.0,262.5 L139.4,261.9 L145.9,261.3 L152.3,260.8 L158.7,260.2 L165.2,259.6 L171.6,259.0 L178.1,258.4 L184.5,257.8 L190.9,257.3 L197.4,256.7 L203.8,256.1 L210.2,255.5 L216.7,255.0 L223.1,254.4 L229.5,253.8 L236.0,253.1 L242.4,252.5 L248.8,251.8 L255.3,251.1 L261.7,250.3 L268.2,249.5 L274.6,248.7 L281.0,247.9 L287.5,247.0 L293.9,246.1 L300.3,245.1 L306.8,244.0 L313.2,243.0 L319.6,241.9 L326.1,240.7 L332.5,239.6 L338.9,238.4 L345.4,237.1 L351.8,235.8 L358.3,234.5 L364.7,233.1 L371.1,231.7 L377.6,230.3 L384.0,228.8"/>
<path stroke="#e2062c" d="M565.0,181.6 L561.4,181.8 L557.9,182.1 L554.3,182.6 L550.8,183.1 L547.2,183.6 L543.7,184.3 L540.1,185.1 L536.6,186.1 L533.0,187.2 L529.4,188.4 L525.9,189.7 L522.3,191.0 L518.8,192.3 L515.2,193.8 L511.7,195.4 L508.1,197.1 L504.5,198.9 L501.0,200.8 L497.4,202.6 L493.9,204.4 L490.3,206.2 L486.8,208.0 L483.2,209.9 L479.7,211.7 L476.1,213.6 L472.5,215.5 L469.0,217.4 L465.4,219.2 L461.9,221.1 L458.3,223.1 L454.5,225.0 L450.8,226.9 L447.0,228.8 L443.2,230.7 L439.5,232.6 L435.7,234.5 L431.9,236.4 L428.2,238.4 L424.4,240.3 L420.6,242.2 L416.9,244.0 L413.1,245.6 L409.3,247.2 L405.5,248.8 L402.0,250.2 L398.4,251.7 L394.9,253.1 L391.4,254.3 L388.1,255.5 L384.8,256.6 L381.5,257.5 L378.2,258.4 L374.9,259.3 L371.6,260.1 L368.4,260.8 L365.1,261.4 L361.8,261.9 L358.5,262.3 L355.2,262.6"/>
<path stroke="#e2062c" d="M560.2,262.5 L553.8,261.9 L547.3,261.3 L540.9,260.8 L534.5,260.2 L528.0,259.6 L521.6,259.0 L515.1,258.4 L508.7,257.8 L502.3,257.3 L495.8,256.7 L489.4,256.1 L483.0,255.5 L476.5,255.0 L470.1,254.4 L463.7,253.8 L457.2,253.1 L450.8,252.5 L444.4,251.8 L437.9,251.1 L431.5,250.3 L425.0,249.5 L418.6,248.7 L412.2,247.9 L405.7,247.0 L399.3,246.1 L392.9,245.1 L386.4,244.0 L380.0,243.0 L373.6,241.9 L367.1,240.7 L360.7,239.6 L354.3,238.4 L347.8,237.1 L341.4,235.8 L334.9,234.5 L328.5,233.1 L322.1,231.7 L315.6,230.3 L309.2,228.8"/>
</g>
<g fill="#000">
<rect x="118.4" y="22.3" width="2.6" height="306.9"/>
<rect x="570.2" y="22.3" width="2.6" height="306.9"/>
<rect x="118.4" y="22.3" width="454.4" height="1.8"/>
<rect x="118.4" y="326.5" width="454.4" height="2.7"/>
<rect x="121" y="64.6" width="2.6" height="2.4"/>
<rect x="121" y="111.4" width="2.6" height="2.4"/>
<rect x="121" y="158.2" width="2.6" height="2.4"/>
<rect x="121" y="205.0" width="2.6" height="2.4"/>
<rect x="121" y="251.8" width="2.6" height="2.4"/>
<rect x="121" y="298.6" width="2.6" height="2.4"/>
<rect x="127.2" y="323.9" width="2.4" height="3"/>
<rect x="235.9" y="323.9" width="2.4" height="3"/>
<rect x="344.5" y="323.9" width="2.4" height="3"/>
<rect x="453.2" y="323.9" width="2.4" height="3"/>
<rect x="561.8" y="323.9" width="2.4" height="3"/>
</g>
<clipPath id="rc"><rect x="698.0" y="26.0" width="408.0" height="303.0"/></clipPath>
<g clip-path="url(#rc)">
<rect x="698.0" y="26.0" width="408.0" height="303.0" fill="#bfbfbf"/>
<path fill="#fff" d="M731.5,24.0 L733.0,27.0 L734.8,29.8 L736.7,32.4 L738.9,34.8 L741.3,37.0 L743.9,39.1 L746.5,41.0 L749.2,42.9 L752.1,44.6 L755.0,46.1 L757.9,47.6 L760.9,48.9 L763.9,50.2 L767.0,51.4 L770.1,52.4 L773.2,53.4 L776.3,54.4 L779.5,55.2 L782.7,56.0 L785.9,56.7 L789.1,57.4 L792.3,58.0 L795.6,58.5 L798.8,59.1 L802.0,59.6 L805.3,60.1 L808.5,60.6 L811.8,60.9 L815.1,61.3 L818.3,61.6 L821.6,61.9 L824.9,62.2 L828.1,62.5 L831.4,62.8 L834.7,63.1 L837.9,63.4 L841.2,63.7 L844.5,64.1 L847.7,64.4 L851.0,64.7 L854.3,64.9 L857.5,65.1 L860.8,65.2 L864.1,65.4 L867.4,65.5 L870.6,65.7 L873.9,65.8 L877.2,65.9 L880.5,66.0 L883.7,66.1 L887.0,66.2 L890.3,66.3 L893.6,66.4 L896.9,66.5 L900.1,66.6 L903.4,66.7 L906.7,66.8 L910.0,66.9 L913.3,67.0 L916.5,67.1 L919.8,67.2 L923.1,67.3 L926.4,67.4 L929.6,67.5 L932.9,67.6 L936.2,67.7 L939.5,67.8 L942.8,67.8 L946.0,67.9 L949.3,68.0 L952.6,68.1 L955.9,68.2 L959.2,68.3 L962.4,68.3 L965.7,68.4 L969.0,68.5 L972.3,68.6 L975.6,68.6 L978.8,68.7 L982.1,68.8 L985.4,68.9 L988.7,68.9 L991.9,69.0 L995.2,69.1 L998.5,69.2 L1001.8,69.2 L1005.1,69.3 L1008.3,69.4 L1011.6,69.5 L1014.9,69.5 L1018.2,69.6 L1021.5,69.7 L1024.7,69.7 L1028.0,69.8 L1031.3,69.9 L1034.6,69.9 L1037.9,70.0 L1041.1,70.1 L1044.4,70.1 L1047.7,70.2 L1051.0,70.3 L1054.3,70.3 L1057.5,70.4 L1060.8,70.5 L1064.1,70.5 L1067.4,70.6 L1070.6,70.7 L1073.9,70.7 L1077.2,70.8 L1080.5,70.9 L1083.8,70.9 L1087.0,71.0 L1090.3,71.0 L1093.6,71.1 L1096.9,71.2 L1100.2,71.2 L1103.4,71.3 L1106.7,71.3 L1110.0,71.4 L1110.0,20.0 L731.5,20.0Z"/>
<path fill="#fff" d="M709.5,24.0 L709.7,26.6 L709.9,29.3 L710.2,31.9 L710.5,34.5 L710.7,37.2 L711.0,39.8 L711.4,42.4 L711.7,45.1 L712.0,47.7 L712.4,50.3 L712.8,52.9 L713.2,55.5 L713.5,58.2 L713.8,60.8 L714.2,63.4 L714.5,66.0 L714.8,68.7 L715.2,71.3 L715.5,73.9 L715.9,76.5 L716.3,79.1 L716.8,81.7 L717.2,84.4 L717.7,87.0 L718.1,89.6 L718.6,92.2 L719.1,94.8 L719.7,97.4 L720.2,99.9 L720.8,102.5 L721.4,105.1 L722.0,107.7 L722.6,110.2 L723.3,112.8 L724.0,115.4 L724.7,117.9 L725.4,120.5 L726.1,123.0 L726.9,125.5 L727.7,128.1 L728.6,130.6 L729.4,133.1 L730.4,135.5 L731.4,138.0 L732.5,140.4 L733.5,142.8 L734.5,145.3 L735.6,147.7 L736.6,150.2 L737.6,152.6 L738.6,155.1 L739.6,157.5 L740.7,159.9 L741.7,162.4 L742.8,164.8 L743.9,167.2 L745.0,169.6 L746.1,172.0 L747.2,174.4 L748.3,176.8 L749.5,179.2 L750.7,181.5 L751.9,183.9 L753.1,186.2 L754.4,188.5 L755.8,190.8 L757.2,193.1 L758.6,195.3 L760.0,197.5 L761.5,199.7 L763.1,201.8 L764.7,203.9 L766.3,206.0 L767.9,208.1 L769.5,210.3 L771.1,212.3 L772.7,214.4 L774.4,216.5 L776.0,218.6 L778.5,220.1 L780.9,221.6 L783.4,223.1 L785.9,224.6 L788.4,226.1 L790.9,227.5 L793.5,228.8 L796.1,230.0 L798.8,231.2 L801.5,232.3 L804.2,233.3 L806.9,234.3 L809.7,235.3 L812.4,236.2 L815.2,237.1 L817.9,238.0 L820.7,238.8 L823.5,239.6 L826.3,240.4 L829.1,241.2 L831.8,242.0 L834.6,242.9 L837.3,243.8 L840.1,244.7 L842.8,245.7 L845.6,246.6 L848.3,247.6 L851.0,248.6 L853.7,249.6 L856.5,250.6 L859.2,251.5 L862.0,252.4 L864.7,253.3 L867.5,254.1 L870.3,255.0 L873.0,255.8 L875.8,256.7 L878.6,257.5 L881.4,258.2 L884.2,259.0 L887.0,259.8 L889.8,260.5 L892.6,261.3 L895.4,262.0 L898.2,262.7 L901.0,263.4 L903.8,264.1 L906.6,264.8 L909.4,265.5 L912.3,266.1 L915.1,266.8 L917.9,267.4 L920.7,268.1 L923.6,268.7 L926.4,269.3 L929.2,269.9 L932.1,270.5 L934.9,271.0 L937.8,271.6 L940.6,272.1 L943.5,272.6 L946.3,273.2 L949.2,273.7 L952.0,274.2 L954.9,274.6 L957.7,275.1 L960.6,275.5 L963.5,276.0 L966.3,276.4 L969.2,276.8 L972.1,277.1 L975.0,277.5 L977.8,277.9 L980.7,278.3 L983.6,278.6 L986.5,279.0 L989.3,279.4 L992.2,279.8 L995.1,280.2 L997.9,280.7 L1000.8,281.1 L1003.6,281.6 L1006.5,282.1 L1009.4,282.5 L1012.2,283.0 L1015.1,283.4 L1018.0,283.9 L1020.8,284.3 L1023.7,284.7 L1026.6,285.1 L1029.4,285.4 L1032.3,285.8 L1035.2,286.1 L1038.1,286.5 L1040.9,286.8 L1043.8,287.2 L1046.7,287.5 L1049.6,287.9 L1052.4,288.2 L1055.3,288.6 L1058.2,288.9 L1061.1,289.3 L1063.9,289.7 L1066.8,290.0 L1069.7,290.4 L1072.6,290.7 L1075.5,291.0 L1078.3,291.4 L1081.2,291.7 L1084.1,292.1 L1087.0,292.4 L1089.8,292.7 L1092.7,293.1 L1095.6,293.4 L1098.5,293.7 L1101.4,294.0 L1104.2,294.4 L1107.1,294.7 L1110.0,295.0 L1110.0,285.0 L1107.5,284.6 L1105.0,284.1 L1102.4,283.7 L1099.9,283.2 L1097.4,282.8 L1094.9,282.3 L1092.4,281.8 L1089.8,281.4 L1087.3,280.9 L1084.8,280.5 L1082.3,280.0 L1079.8,279.6 L1077.2,279.1 L1074.7,278.7 L1072.2,278.2 L1069.7,277.7 L1067.2,277.3 L1064.6,276.8 L1062.1,276.4 L1059.6,275.9 L1057.1,275.4 L1054.6,275.0 L1052.0,274.5 L1049.5,274.0 L1047.0,273.6 L1044.5,273.1 L1042.0,272.6 L1039.5,272.2 L1036.9,271.7 L1034.4,271.3 L1031.9,270.8 L1029.4,270.4 L1026.9,269.9 L1024.3,269.4 L1021.8,269.0 L1019.3,268.5 L1016.8,268.0 L1014.3,267.6 L1011.8,267.1 L1009.2,266.6 L1006.7,266.1 L1004.2,265.7 L1001.7,265.2 L999.2,264.7 L996.7,264.2 L994.2,263.7 L991.7,263.1 L989.1,262.6 L986.6,262.1 L984.1,261.5 L981.6,261.0 L979.1,260.4 L976.6,259.8 L974.1,259.3 L971.6,258.7 L969.2,258.1 L966.7,257.5 L964.2,256.9 L961.7,256.2 L959.2,255.6 L956.8,254.9 L954.3,254.2 L951.8,253.5 L949.4,252.8 L946.9,252.0 L944.5,251.3 L942.0,250.5 L939.6,249.7 L937.2,249.0 L934.7,248.2 L932.3,247.4 L929.8,246.6 L927.4,245.8 L925.0,245.0 L922.5,244.2 L920.1,243.4 L917.7,242.6 L915.2,241.7 L912.8,240.9 L910.4,240.0 L908.0,239.1 L905.7,238.1 L903.3,237.1 L901.0,236.1 L898.7,235.0 L896.4,233.9 L894.1,232.7 L891.8,231.5 L889.5,230.4 L887.3,229.2 L885.0,228.0 L882.8,226.7 L880.5,225.5 L878.3,224.2 L876.1,222.9 L873.9,221.6 L871.6,220.4 L869.4,219.2 L867.1,218.0 L864.9,216.8 L862.6,215.6 L860.3,214.4 L858.0,213.3 L855.7,212.1 L853.4,211.0 L851.1,209.8 L848.9,208.6 L846.6,207.4 L844.4,206.2 L842.2,204.9 L840.0,203.6 L837.8,202.2 L835.7,200.7 L833.7,199.2 L831.7,197.6 L829.7,196.0 L827.7,194.4 L825.7,192.8 L823.7,191.1 L821.7,189.5 L819.8,187.9 L817.8,186.2 L815.8,184.6 L813.9,182.9 L811.9,181.3 L810.0,179.6 L808.0,178.0 L806.0,176.4 L804.1,174.7 L802.1,173.0 L800.3,171.3 L798.4,169.5 L796.6,167.7 L794.9,165.8 L793.1,164.0 L791.3,162.1 L789.6,160.2 L787.9,158.3 L786.2,156.4 L784.5,154.5 L782.9,152.5 L781.3,150.5 L779.7,148.5 L778.1,146.4 L776.7,144.3 L775.4,142.1 L774.3,139.8 L773.4,137.4 L772.3,135.1 L770.8,133.0 L769.0,131.1 L767.3,129.2 L765.6,127.4 L763.8,125.5 L762.0,123.7 L760.3,121.8 L758.5,119.9 L756.8,118.0 L755.1,116.1 L753.4,114.2 L751.7,112.2 L750.1,110.3 L748.5,108.3 L746.9,106.3 L745.3,104.3 L743.8,102.2 L742.3,100.1 L740.8,98.1 L739.3,95.9 L737.9,93.8 L736.6,91.6 L735.2,89.5 L733.9,87.3 L732.6,85.0 L731.4,82.8 L730.2,80.5 L729.1,78.2 L727.9,75.9 L726.9,73.6 L725.9,71.2 L724.9,68.9 L724.0,66.5 L723.1,64.1 L722.3,61.6 L721.6,59.2 L720.9,56.7 L720.2,54.3 L719.5,51.8 L718.9,49.3 L718.3,46.8 L717.8,44.3 L717.4,41.8 L716.9,39.3 L716.5,36.7 L716.1,34.2 L715.8,31.7 L715.5,29.1 L715.2,26.6 L715.0,24.0Z"/>
<path fill="#fff" d="M697.0,149.5 L698.3,150.8 L699.5,152.1 L700.6,153.5 L701.7,154.9 L702.8,156.4 L703.8,157.8 L704.9,159.3 L706.0,160.7 L707.0,162.2 L708.1,163.6 L709.2,165.0 L710.3,166.5 L711.4,167.9 L712.5,169.3 L713.7,170.7 L714.8,172.2 L715.9,173.5 L717.1,174.9 L718.3,176.3 L719.5,177.6 L720.7,178.9 L721.9,180.2 L723.2,181.5 L724.4,182.8 L725.7,184.1 L727.0,185.4 L728.3,186.6 L729.6,187.8 L731.0,189.0 L732.4,190.1 L733.7,191.3 L735.1,192.4 L736.6,193.5 L738.0,194.6 L739.4,195.7 L740.9,196.8 L742.3,197.9 L743.8,199.0 L745.2,200.0 L746.7,201.1 L748.1,202.1 L749.6,203.2 L751.1,204.2 L752.6,205.2 L754.1,206.2 L755.6,207.2 L757.1,208.1 L758.6,209.1 L760.2,210.0 L761.7,210.9 L763.3,211.8 L764.9,212.7 L766.4,213.6 L768.0,214.4 L769.6,215.3 L771.2,216.1 L772.8,217.0 L774.4,217.8 L776.0,218.6 L776.9,220.0 L777.8,221.4 L778.7,222.7 L779.7,224.1 L780.7,225.3 L781.7,226.6 L782.8,227.8 L783.9,229.0 L785.0,230.2 L786.2,231.3 L787.5,232.4 L788.7,233.5 L790.0,234.5 L791.2,235.6 L792.5,236.6 L793.8,237.6 L795.1,238.6 L796.4,239.6 L797.7,240.5 L799.1,241.5 L800.4,242.4 L801.8,243.3 L803.2,244.2 L804.6,245.1 L806.0,245.9 L807.4,246.7 L808.8,247.5 L810.2,248.3 L811.7,249.1 L813.1,249.9 L814.5,250.7 L816.0,251.5 L817.4,252.3 L818.8,253.1 L820.3,253.9 L821.7,254.6 L823.2,255.4 L824.6,256.1 L826.1,256.8 L827.6,257.5 L829.1,258.1 L830.6,258.8 L832.1,259.4 L833.6,260.0 L835.2,260.6 L836.7,261.2 L838.2,261.8 L839.7,262.4 L841.3,262.9 L842.8,263.5 L844.3,264.1 L845.8,264.7 L847.4,265.4 L848.9,266.0 L850.4,266.7 L851.9,267.3 L853.3,268.0 L854.8,268.7 L856.3,269.4 L856.3,269.4 L854.6,269.1 L852.8,268.7 L851.1,268.4 L849.3,268.0 L847.6,267.7 L845.8,267.3 L844.1,267.0 L842.3,266.7 L840.6,266.3 L838.9,266.0 L837.1,265.6 L835.4,265.3 L833.6,265.0 L831.9,264.6 L830.1,264.3 L828.4,263.9 L826.7,263.5 L824.9,263.2 L823.2,262.8 L821.5,262.4 L819.7,262.0 L818.0,261.6 L816.3,261.2 L814.5,260.8 L812.8,260.4 L811.1,260.0 L809.3,259.6 L807.6,259.2 L805.9,258.8 L804.1,258.4 L802.4,258.0 L800.7,257.6 L798.9,257.2 L797.2,256.9 L795.4,256.5 L793.7,256.2 L792.0,255.8 L790.2,255.4 L788.5,255.0 L786.8,254.6 L785.0,254.2 L783.3,253.8 L781.6,253.3 L779.9,252.9 L778.1,252.4 L776.4,251.9 L774.7,251.3 L773.1,250.7 L771.5,250.0 L770.0,249.2 L768.5,248.2 L767.0,247.2 L765.5,246.1 L764.1,245.0 L762.7,243.9 L761.3,242.7 L760.0,241.6 L758.7,240.4 L757.4,239.2 L756.1,238.0 L754.8,236.7 L753.5,235.5 L752.3,234.2 L751.0,233.0 L749.7,231.8 L748.4,230.6 L747.0,229.5 L745.6,228.3 L744.2,227.2 L742.8,226.1 L741.4,225.0 L740.1,223.8 L738.8,222.6 L737.7,221.3 L736.5,219.9 L735.4,218.6 L734.3,217.1 L733.3,215.7 L732.3,214.2 L731.3,212.7 L730.3,211.2 L729.3,209.8 L728.3,208.3 L727.4,206.8 L726.4,205.3 L725.5,203.8 L724.5,202.3 L723.6,200.7 L722.7,199.2 L721.8,197.7 L720.9,196.1 L720.0,194.6 L719.1,193.1 L718.2,191.5 L717.3,190.0 L716.5,188.4 L715.6,186.9 L714.7,185.3 L713.9,183.8 L713.0,182.2 L712.2,180.7 L711.3,179.1 L710.5,177.5 L709.6,176.0 L708.8,174.4 L707.9,172.9 L707.1,171.3 L706.2,169.7 L705.4,168.2 L704.5,166.6 L703.7,165.0 L702.9,163.5 L702.0,161.9 L701.2,160.3 L700.3,158.8 L699.5,157.2 L698.7,155.6 L697.8,154.1 L697.0,152.5Z"/>
<path fill="#fff" d="M856.3,269.4 L859.5,269.9 L862.7,270.5 L865.9,271.1 L869.1,271.7 L872.3,272.3 L875.4,272.9 L878.6,273.6 L881.8,274.3 L885.0,275.0 L888.1,275.8 L891.3,276.5 L894.4,277.3 L897.6,278.1 L900.7,278.8 L903.9,279.5 L907.1,280.1 L910.3,280.8 L913.4,281.4 L916.6,282.1 L919.8,282.7 L923.0,283.3 L926.2,283.9 L929.4,284.4 L932.6,284.9 L935.8,285.4 L939.0,285.8 L942.2,286.2 L945.5,286.6 L948.7,287.0 L951.9,287.4 L955.1,287.7 L958.4,288.1 L961.6,288.5 L964.8,288.8 L968.0,289.2 L971.3,289.5 L974.5,289.9 L977.7,290.2 L980.9,290.6 L984.2,290.9 L987.4,291.3 L990.6,291.7 L993.8,292.1 L997.1,292.5 L1000.3,293.0 L1003.5,293.4 L1006.7,293.9 L1009.9,294.4 L1013.1,294.8 L1016.3,295.3 L1019.6,295.7 L1022.8,296.1 L1026.0,296.4 L1029.2,296.7 L1032.5,296.9 L1035.7,297.2 L1038.9,297.4 L1042.2,297.7 L1045.4,297.9 L1048.6,298.3 L1051.9,298.6 L1055.1,299.0 L1058.3,299.4 L1061.5,299.8 L1064.8,300.1 L1068.0,300.5 L1071.2,300.8 L1074.4,301.1 L1077.7,301.4 L1080.9,301.8 L1084.1,302.1 L1087.4,302.3 L1090.6,302.6 L1093.8,302.9 L1097.1,303.2 L1100.3,303.5 L1103.5,303.7 L1106.8,304.0 L1110.0,304.2 L1110.0,319.6 L1106.7,319.5 L1103.4,319.3 L1100.1,319.1 L1096.9,318.9 L1093.6,318.7 L1090.3,318.4 L1087.0,318.2 L1083.8,317.9 L1080.5,317.6 L1077.2,317.3 L1074.0,317.0 L1070.7,316.7 L1067.4,316.3 L1064.2,315.9 L1060.9,315.5 L1057.7,315.0 L1054.4,314.5 L1051.2,314.1 L1047.9,313.6 L1044.7,313.2 L1041.4,312.8 L1038.1,312.4 L1034.9,312.0 L1031.6,311.6 L1028.3,311.2 L1025.1,310.8 L1021.9,310.3 L1018.6,309.7 L1015.4,309.1 L1012.2,308.5 L1008.9,307.9 L1005.7,307.3 L1002.5,306.6 L999.3,305.9 L996.0,305.3 L992.8,304.6 L989.6,303.9 L986.4,303.2 L983.2,302.5 L980.0,301.8 L976.8,301.1 L973.6,300.4 L970.4,299.6 L967.2,298.9 L964.0,298.2 L960.8,297.4 L957.6,296.7 L954.4,296.0 L951.1,295.4 L947.9,294.7 L944.7,294.0 L941.5,293.3 L938.3,292.6 L935.1,291.9 L931.9,291.2 L928.7,290.5 L925.4,289.9 L922.2,289.2 L919.0,288.6 L915.8,287.9 L912.6,287.2 L909.4,286.5 L906.2,285.8 L903.0,285.0 L899.8,284.2 L896.6,283.4 L893.4,282.5 L890.3,281.6 L887.1,280.7 L884.0,279.8 L880.8,278.8 L877.7,277.8 L874.6,276.7 L871.5,275.6 L868.4,274.5 L865.4,273.3 L862.3,272.0 L859.3,270.7 L856.3,269.4Z"/>
<path fill="#fff" d="M697.0,222.6 L698.6,223.4 L700.2,224.2 L701.9,224.9 L703.5,225.7 L705.1,226.4 L706.7,227.1 L708.4,227.9 L710.0,228.6 L711.7,229.3 L713.3,229.9 L715.0,230.6 L716.6,231.3 L718.3,231.9 L720.0,232.5 L721.7,233.1 L723.3,233.7 L725.0,234.3 L726.7,234.9 L728.4,235.5 L730.1,236.1 L731.8,236.6 L733.5,237.2 L735.2,237.8 L736.9,238.5 L738.6,239.0 L740.3,239.6 L742.1,240.2 L743.8,240.7 L745.5,241.3 L747.2,242.0 L748.8,242.6 L750.4,243.4 L751.9,244.2 L753.2,245.2 L754.6,246.4 L755.8,247.7 L757.1,249.0 L758.3,250.4 L759.6,251.7 L760.9,253.0 L762.2,254.2 L763.6,255.3 L764.9,256.5 L766.3,257.6 L767.7,258.8 L769.1,259.9 L770.5,261.0 L771.9,262.1 L773.3,263.2 L774.7,264.3 L776.1,265.4 L777.6,266.4 L779.0,267.5 L780.5,268.5 L782.0,269.5 L783.4,270.6 L784.9,271.6 L786.3,272.7 L787.7,273.8 L789.2,274.8 L790.7,275.8 L792.2,276.8 L793.7,277.7 L795.3,278.5 L796.8,279.4 L798.4,280.2 L800.0,281.0 L801.7,281.8 L803.3,282.5 L804.9,283.3 L806.6,284.0 L808.2,284.6 L809.9,285.3 L811.6,285.9 L813.2,286.6 L814.9,287.1 L816.6,287.7 L818.3,288.3 L820.0,288.8 L821.7,289.3 L823.4,289.9 L825.2,290.4 L826.9,290.9 L828.6,291.4 L830.3,291.9 L832.0,292.4 L833.8,292.9 L835.5,293.4 L837.2,293.9 L838.9,294.4 L840.6,294.9 L842.3,295.4 L844.1,295.9 L845.8,296.4 L847.5,296.9 L849.2,297.4 L850.9,297.9 L852.7,298.4 L854.4,298.9 L856.1,299.4 L857.8,300.0 L859.5,300.5 L861.2,301.0 L862.9,301.6 L864.6,302.1 L866.3,302.6 L868.1,303.2 L869.8,303.7 L871.5,304.2 L873.2,304.6 L874.9,305.1 L876.7,305.5 L878.4,306.0 L880.1,306.4 L881.9,306.8 L883.6,307.2 L885.4,307.6 L887.1,307.9 L888.8,308.3 L890.6,308.7 L892.4,309.0 L894.1,309.4 L895.9,309.7 L897.6,310.1 L899.4,310.4 L901.1,310.8 L902.9,311.1 L904.7,311.4 L906.4,311.7 L908.2,312.1 L909.9,312.4 L911.7,312.7 L913.5,313.0 L915.2,313.3 L917.0,313.6 L918.7,313.9 L920.5,314.2 L922.3,314.5 L924.0,314.8 L925.8,315.1 L927.6,315.4 L929.3,315.6 L931.1,315.9 L932.9,316.2 L934.7,316.4 L936.4,316.7 L938.2,317.0 L940.0,317.2 L941.7,317.5 L943.5,317.7 L945.3,317.9 L947.1,318.2 L948.8,318.4 L950.6,318.7 L952.4,318.9 L954.1,319.1 L955.9,319.3 L957.7,319.6 L959.5,319.8 L961.2,320.0 L963.0,320.3 L964.8,320.5 L966.6,320.7 L968.3,320.9 L970.1,321.1 L971.9,321.3 L973.7,321.5 L975.5,321.7 L977.2,321.9 L979.0,322.1 L980.8,322.3 L982.6,322.5 L984.3,322.7 L986.1,322.9 L987.9,323.2 L989.7,323.4 L991.4,323.7 L993.2,324.0 L994.9,324.3 L996.7,324.6 L998.5,325.0 L1000.2,325.3 L1002.0,325.7 L1003.7,326.0 L1005.5,326.4 L1007.2,326.8 L1009.0,327.2 L1010.7,327.5 L1012.5,327.9 L1014.2,328.3 L1016.0,328.6 L1017.7,329.0 L1019.5,329.4 L1021.2,329.7 L1023.0,330.1 L1024.7,330.4 L1026.5,330.8 L1028.2,331.1 L1030.0,331.5 L1030.0,340.0 L690.0,340.0Z"/>
</g>
<path d="M855.8,23.4V329" stroke="#e8141e" stroke-width="1.5" stroke-dasharray="9.3 5.8" fill="none"/>
<g stroke="#a4a4a4" stroke-width="0.8">
<path d="M730.4,329V325.0"/>
<path d="M730.4,26V29.2"/>
<path d="M813.8,329V325.0"/>
<path d="M813.8,26V29.2"/>
<path d="M897.2,329V325.0"/>
<path d="M897.2,26V29.2"/>
<path d="M980.6,329V325.0"/>
<path d="M980.6,26V29.2"/>
<path d="M1064.0,329V325.0"/>
<path d="M1064.0,26V29.2"/>
<path d="M772.1,26V29.5"/>
<path d="M855.5,26V29.5"/>
<path d="M938.9,26V29.5"/>
<path d="M1022.3,26V29.5"/>
<path d="M698,62.6H701.4"/>
<path d="M1105.4,62.6H1102.0"/>
<path d="M698,138.7H701.4"/>
<path d="M1105.4,138.7H1102.0"/>
<path d="M698,214.8H701.4"/>
<path d="M1105.4,214.8H1102.0"/>
<path d="M698,291H701.4"/>
<path d="M1105.4,291H1102.0"/>
</g>
<g fill="#000">
<rect x="695.2" y="23.2" width="2.9" height="308.5"/>
<rect x="1105.4" y="23.2" width="3.0" height="308.5"/>
<rect x="695.2" y="23.2" width="413.2" height="2.8"/>
<rect x="695.2" y="328.9" width="413.2" height="2.8"/>
<rect x="770.8" y="322.2" width="2.6" height="7"/>
<rect x="854.2" y="322.2" width="2.6" height="7"/>
<rect x="937.6" y="322.2" width="2.6" height="7"/>
<rect x="1021.0" y="322.2" width="2.6" height="7"/>
<rect x="698" y="99.4" width="6.2" height="2.4"/>
<rect x="698" y="175.1" width="6.2" height="2.4"/>
<rect x="698" y="250.5" width="6.2" height="2.4"/>
</g>
<text x="81.3" y="38.7" font-size="32" font-weight="bold" font-style="normal" fill="#000" text-anchor="middle" >0.9</text>
<text x="81.3" y="123.7" font-size="32" font-weight="bold" font-style="normal" fill="#000" text-anchor="middle" >0.7</text>
<text x="81.3" y="221.9" font-size="32" font-weight="bold" font-style="normal" fill="#000" text-anchor="middle" >0.5</text>
<text x="81.3" y="308.8" font-size="32" font-weight="bold" font-style="normal" fill="#000" text-anchor="middle" >0.3</text>
<text x="128.4" y="368.3" font-size="32" font-weight="bold" font-style="normal" fill="#000" text-anchor="middle" >0</text>
<text x="238.5" y="368.0" font-size="32" font-weight="bold" font-style="normal" fill="#000" text-anchor="middle" ><tspan stroke="#000" stroke-width="0.5">π</tspan>/2</text>
<text x="346.4" y="368.0" font-size="32" font-weight="bold" font-style="normal" fill="#000" text-anchor="middle" ><tspan stroke="#000" stroke-width="0.5">π</tspan></text>
<text x="454.2" y="368.0" font-size="32" font-weight="bold" font-style="normal" fill="#000" text-anchor="middle" >3<tspan stroke="#000" stroke-width="0.5">π</tspan>/2</text>
<text x="565.2" y="368.0" font-size="32" font-weight="bold" font-style="normal" fill="#000" text-anchor="middle" >2<tspan stroke="#000" stroke-width="0.5">π</tspan></text>
<text x="336.2" y="401.9" font-size="29" font-weight="bold" font-style="italic" fill="#000" text-anchor="start" >k<tspan font-size="19" dy="4.5">y</tspan></text>
<text x="194.5" y="57.5" font-size="31" font-weight="bold" font-style="normal" fill="#000" text-anchor="start" >(<tspan font-style="italic">a</tspan>)</text>
<text x="664" y="38.3" font-size="31" font-weight="bold" font-style="normal" fill="#000" text-anchor="middle" >1.0</text>
<text x="664" y="114.3" font-size="31" font-weight="bold" font-style="normal" fill="#000" text-anchor="middle" >0.8</text>
<text x="664" y="187.7" font-size="31" font-weight="bold" font-style="normal" fill="#000" text-anchor="middle" >0.6</text>
<text x="664" y="261.2" font-size="31" font-weight="bold" font-style="normal" fill="#000" text-anchor="middle" >0.4</text>
<text x="664" y="330.6" font-size="31" font-weight="bold" font-style="normal" fill="#000" text-anchor="middle" >0.2</text>
<text x="698.5" y="368.4" font-size="31" font-weight="bold" font-style="normal" fill="#000" text-anchor="middle" >0</text>
<text x="771.5" y="368.4" font-size="31" font-weight="bold" font-style="normal" fill="#000" text-anchor="middle" >2</text>
<text x="854.2" y="368.4" font-size="31" font-weight="bold" font-style="normal" fill="#000" text-anchor="middle" >4</text>
<text x="941" y="368.4" font-size="31" font-weight="bold" font-style="normal" fill="#000" text-anchor="middle" >6</text>
<text x="1023.2" y="368.4" font-size="31" font-weight="bold" font-style="normal" fill="#000" text-anchor="middle" >8</text>
<text x="1103" y="368.4" font-size="31" font-weight="bold" font-style="normal" fill="#000" text-anchor="middle" >10</text>
<text x="898.0" y="402.8" font-size="30" font-weight="bold" font-style="italic" fill="#000" text-anchor="start" >C<tspan font-size="18" dy="3" dx="-2">1</tspan><tspan dy="-3" dx="0.5">/</tspan>C<tspan font-size="18" dy="3" dx="-0.5">2</tspan></text>
<text x="800.0" y="58.2" font-size="31" font-weight="bold" font-style="normal" fill="#000" text-anchor="start" >(<tspan font-style="italic">b</tspan>)</text>
<g fill="#ff1e0a">
<text transform="translate(514.10,143.90) scale(1.000,1)" font-size="22.86" font-weight="bold" font-style="italic">C</text>
<text transform="translate(526.45,145.81) scale(1.156,1)" font-size="15.91" font-weight="normal" font-style="normal">↑</text>
<text transform="translate(536.55,143.30) scale(1.182,1)" font-size="17.83" font-weight="bold" font-style="normal">=</text>
<text transform="translate(550.89,142.99) scale(0.892,1)" font-size="22.86" font-weight="bold" font-style="normal">-</text>
<text transform="translate(557.14,143.90) scale(0.904,1)" font-size="23.03" font-weight="bold" font-style="normal">1</text>
</g>
<g fill="#ff1e0a">
<text transform="translate(514.79,280.75) scale(1.000,1)" font-size="23.08" font-weight="bold" font-style="italic">C</text>
<text transform="translate(527.27,282.68) scale(1.156,1)" font-size="16.07" font-weight="normal" font-style="normal">↑</text>
<text transform="translate(536.85,280.14) scale(1.171,1)" font-size="18.00" font-weight="bold" font-style="normal">=</text>
<text transform="translate(552.05,280.75) scale(0.941,1)" font-size="23.26" font-weight="bold" font-style="normal">1</text>
</g>
<g fill="#ff1e0a">
<text transform="translate(517.81,307.40) scale(1.000,1)" font-size="19.70" font-weight="bold" font-style="italic">C</text>
<text transform="translate(528.37,309.05) scale(1.156,1)" font-size="13.71" font-weight="normal" font-style="normal">↑</text>
<text transform="translate(537.81,306.88) scale(1.182,1)" font-size="16.74" font-weight="normal" font-style="normal">=</text>
<text transform="translate(552.04,307.40) scale(0.960,1)" font-size="19.85" font-weight="normal" font-style="normal">0</text>
</g>
<g fill="#ff1e0a">
<text transform="translate(785.12,115.20) scale(1.000,1)" font-size="22.26" font-weight="bold" font-style="italic">C</text>
<text transform="translate(797.13,117.06) scale(1.156,1)" font-size="15.49" font-weight="normal" font-style="normal">↑</text>
<text transform="translate(807.55,114.61) scale(1.214,1)" font-size="17.36" font-weight="bold" font-style="normal">=</text>
<text transform="translate(822.17,114.32) scale(0.933,1)" font-size="22.26" font-weight="bold" font-style="normal">-</text>
<text transform="translate(828.69,115.20) scale(0.952,1)" font-size="22.42" font-weight="bold" font-style="normal">1</text>
</g>
<g fill="#ff1e0a">
<text transform="translate(933.86,196.80) scale(1.000,1)" font-size="23.91" font-weight="bold" font-style="italic">C</text>
<text transform="translate(946.81,198.80) scale(1.156,1)" font-size="16.64" font-weight="normal" font-style="normal">↑</text>
<text transform="translate(956.01,196.17) scale(1.165,1)" font-size="18.65" font-weight="bold" font-style="normal">=</text>
<text transform="translate(970.35,195.85) scale(0.901,1)" font-size="23.91" font-weight="bold" font-style="normal">-</text>
<text transform="translate(976.53,196.80) scale(0.920,1)" font-size="24.09" font-weight="bold" font-style="normal">1</text>
</g>
<g fill="#ff1e0a">
<text transform="translate(785.04,239.50) scale(1.000,1)" font-size="21.80" font-weight="bold" font-style="italic">C</text>
<text transform="translate(796.79,241.33) scale(1.156,1)" font-size="15.18" font-weight="normal" font-style="normal">↑</text>
<text transform="translate(807.92,238.92) scale(1.160,1)" font-size="18.53" font-weight="normal" font-style="normal">=</text>
<text transform="translate(821.87,239.50) scale(0.943,1)" font-size="21.97" font-weight="normal" font-style="normal">0</text>
</g>
<g fill="#ff1e0a">
<text transform="translate(785.03,283.50) scale(1.000,1)" font-size="22.11" font-weight="bold" font-style="italic">C</text>
<text transform="translate(796.95,285.35) scale(1.156,1)" font-size="15.39" font-weight="normal" font-style="normal">↑</text>
<text transform="translate(807.48,282.92) scale(1.297,1)" font-size="17.24" font-weight="bold" font-style="normal">=</text>
<text transform="translate(822.03,283.50) scale(0.995,1)" font-size="22.27" font-weight="bold" font-style="normal">1</text>
</g>
<g fill="#ff1e0a">
<text transform="translate(932.43,282.30) scale(1.000,1)" font-size="21.95" font-weight="bold" font-style="italic">C</text>
<text transform="translate(944.27,284.14) scale(1.156,1)" font-size="15.28" font-weight="normal" font-style="normal">↑</text>
<text transform="translate(955.30,281.72) scale(1.168,1)" font-size="17.12" font-weight="bold" font-style="normal">=</text>
<text transform="translate(969.79,282.30) scale(0.965,1)" font-size="22.12" font-weight="bold" font-style="normal">1</text>
</g>
<g fill="#ff1e0a">
<text transform="translate(934.24,315.40) scale(1.000,1)" font-size="18.95" font-weight="bold" font-style="italic">C</text>
<text transform="translate(944.37,316.99) scale(1.156,1)" font-size="13.19" font-weight="normal" font-style="normal">↑</text>
<text transform="translate(954.90,314.90) scale(1.122,1)" font-size="16.11" font-weight="normal" font-style="normal">=</text>
<text transform="translate(968.13,315.40) scale(1.010,1)" font-size="19.09" font-weight="normal" font-style="normal">0</text>
</g>
<g transform="translate(0,0)">
<text transform="translate(46.5,196.2) rotate(-90)" font-size="32" font-weight="bold" font-style="italic">LC</text>
<text transform="translate(47.0,232.6) rotate(-90)" font-size="32" font-weight="bold" font-style="italic">ω</text>
<path d="M18.6,153.9V197.2" stroke="#000" stroke-width="1.5" fill="none"/>
<path d="M18.6,196.8L42.6,204.4" stroke="#000" stroke-width="1.2" fill="none"/>
<path d="M42.8,204.6L27.6,211.4" stroke="#000" stroke-width="2.6" fill="none"/>
<path d="M27.6,211.0L30.6,213.6" stroke="#000" stroke-width="1.1" fill="none"/>
</g>
<g transform="translate(580.6,-7.2)">
<text transform="translate(46.5,196.2) rotate(-90)" font-size="32" font-weight="bold" font-style="italic">LC</text>
<text transform="translate(47.0,232.6) rotate(-90)" font-size="32" font-weight="bold" font-style="italic">ω</text>
<path d="M18.6,153.9V197.2" stroke="#000" stroke-width="1.5" fill="none"/>
<path d="M18.6,196.8L42.6,204.4" stroke="#000" stroke-width="1.2" fill="none"/>
<path d="M42.8,204.6L27.6,211.4" stroke="#000" stroke-width="2.6" fill="none"/>
<path d="M27.6,211.0L30.6,213.6" stroke="#000" stroke-width="1.1" fill="none"/>
</g>
</svg>
</body></html>
